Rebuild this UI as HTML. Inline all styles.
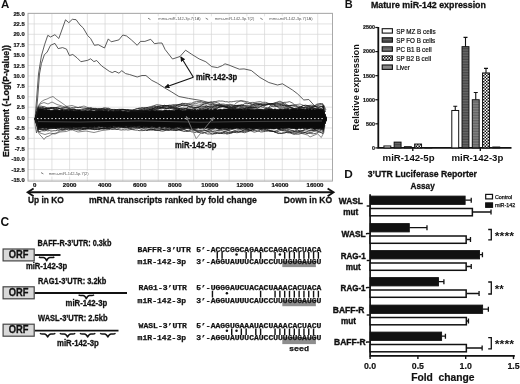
<!DOCTYPE html>
<html><head><meta charset="utf-8"><title>Figure</title>
<style>html,body{margin:0;padding:0;background:#fff;}body{width:520px;height:384px;overflow:hidden;font-family:"Liberation Sans",sans-serif;}svg{display:block;filter:blur(0.4px);}</style>
</head><body>
<svg width="520" height="384" viewBox="0 0 520 384">
<rect width="520" height="384" fill="#fff"/>
<text x="1.00" y="8.02" font-family="Liberation Sans" font-size="11.5" font-weight="bold" text-anchor="start" fill="#111" >A</text>
<path d="M34.20 13.3V181.1M51.92 13.3V181.1M69.64 13.3V181.1M87.36 13.3V181.1M105.08 13.3V181.1M122.80 13.3V181.1M140.52 13.3V181.1M158.24 13.3V181.1M175.96 13.3V181.1M193.68 13.3V181.1M211.40 13.3V181.1M229.12 13.3V181.1M246.84 13.3V181.1M264.56 13.3V181.1M282.28 13.3V181.1M300.00 13.3V181.1M317.72 13.3V181.1M28.0 13.50H332.5M28.0 23.91H332.5M28.0 34.31H332.5M28.0 44.72H332.5M28.0 55.12H332.5M28.0 65.53H332.5M28.0 75.94H332.5M28.0 86.34H332.5M28.0 96.75H332.5M28.0 107.16H332.5M28.0 117.56H332.5M28.0 127.97H332.5M28.0 138.38H332.5M28.0 148.78H332.5M28.0 159.19H332.5M28.0 169.59H332.5M28.0 180.00H332.5" stroke="#d6d6d6" stroke-width="0.7" fill="none"/>
<rect x="28.0" y="13.3" width="304.5" height="167.79999999999998" fill="none" stroke="#a0a0a0" stroke-width="0.9"/>
<text x="24.70" y="15.58" font-family="Liberation Sans" font-size="5.8" font-weight="bold" text-anchor="end" fill="#111" stroke="#111" stroke-width="0.2">25.0</text>
<text x="24.70" y="25.98" font-family="Liberation Sans" font-size="5.8" font-weight="bold" text-anchor="end" fill="#111" stroke="#111" stroke-width="0.2">22.5</text>
<text x="24.70" y="36.39" font-family="Liberation Sans" font-size="5.8" font-weight="bold" text-anchor="end" fill="#111" stroke="#111" stroke-width="0.2">20.0</text>
<text x="24.70" y="46.80" font-family="Liberation Sans" font-size="5.8" font-weight="bold" text-anchor="end" fill="#111" stroke="#111" stroke-width="0.2">17.5</text>
<text x="24.70" y="57.20" font-family="Liberation Sans" font-size="5.8" font-weight="bold" text-anchor="end" fill="#111" stroke="#111" stroke-width="0.2">15.0</text>
<text x="24.70" y="67.61" font-family="Liberation Sans" font-size="5.8" font-weight="bold" text-anchor="end" fill="#111" stroke="#111" stroke-width="0.2">12.5</text>
<text x="24.70" y="78.01" font-family="Liberation Sans" font-size="5.8" font-weight="bold" text-anchor="end" fill="#111" stroke="#111" stroke-width="0.2">10.0</text>
<text x="24.70" y="88.42" font-family="Liberation Sans" font-size="5.8" font-weight="bold" text-anchor="end" fill="#111" stroke="#111" stroke-width="0.2">7.5</text>
<text x="24.70" y="98.83" font-family="Liberation Sans" font-size="5.8" font-weight="bold" text-anchor="end" fill="#111" stroke="#111" stroke-width="0.2">5.0</text>
<text x="24.70" y="109.23" font-family="Liberation Sans" font-size="5.8" font-weight="bold" text-anchor="end" fill="#111" stroke="#111" stroke-width="0.2">2.5</text>
<text x="24.70" y="119.64" font-family="Liberation Sans" font-size="5.8" font-weight="bold" text-anchor="end" fill="#111" stroke="#111" stroke-width="0.2">0.0</text>
<text x="24.70" y="130.05" font-family="Liberation Sans" font-size="5.8" font-weight="bold" text-anchor="end" fill="#111" stroke="#111" stroke-width="0.2">-2.5</text>
<text x="24.70" y="140.45" font-family="Liberation Sans" font-size="5.8" font-weight="bold" text-anchor="end" fill="#111" stroke="#111" stroke-width="0.2">-5.0</text>
<text x="24.70" y="150.86" font-family="Liberation Sans" font-size="5.8" font-weight="bold" text-anchor="end" fill="#111" stroke="#111" stroke-width="0.2">-7.5</text>
<text x="24.70" y="161.26" font-family="Liberation Sans" font-size="5.8" font-weight="bold" text-anchor="end" fill="#111" stroke="#111" stroke-width="0.2">-10.0</text>
<text x="24.70" y="171.67" font-family="Liberation Sans" font-size="5.8" font-weight="bold" text-anchor="end" fill="#111" stroke="#111" stroke-width="0.2">-12.5</text>
<text x="24.70" y="182.08" font-family="Liberation Sans" font-size="5.8" font-weight="bold" text-anchor="end" fill="#111" stroke="#111" stroke-width="0.2">-15.0</text>
<text x="34.60" y="187.48" font-family="Liberation Sans" font-size="6.1" font-weight="bold" text-anchor="middle" fill="#111" stroke="#111" stroke-width="0.2">0</text>
<text x="69.65" y="187.48" font-family="Liberation Sans" font-size="6.1" font-weight="bold" text-anchor="middle" fill="#111" stroke="#111" stroke-width="0.2">2000</text>
<text x="104.70" y="187.48" font-family="Liberation Sans" font-size="6.1" font-weight="bold" text-anchor="middle" fill="#111" stroke="#111" stroke-width="0.2">4000</text>
<text x="139.75" y="187.48" font-family="Liberation Sans" font-size="6.1" font-weight="bold" text-anchor="middle" fill="#111" stroke="#111" stroke-width="0.2">6000</text>
<text x="174.80" y="187.48" font-family="Liberation Sans" font-size="6.1" font-weight="bold" text-anchor="middle" fill="#111" stroke="#111" stroke-width="0.2">8000</text>
<text x="209.85" y="187.48" font-family="Liberation Sans" font-size="6.1" font-weight="bold" text-anchor="middle" fill="#111" stroke="#111" stroke-width="0.2">10000</text>
<text x="244.90" y="187.48" font-family="Liberation Sans" font-size="6.1" font-weight="bold" text-anchor="middle" fill="#111" stroke="#111" stroke-width="0.2">12000</text>
<text x="279.95" y="187.48" font-family="Liberation Sans" font-size="6.1" font-weight="bold" text-anchor="middle" fill="#111" stroke="#111" stroke-width="0.2">14000</text>
<text x="315.00" y="187.48" font-family="Liberation Sans" font-size="6.1" font-weight="bold" text-anchor="middle" fill="#111" stroke="#111" stroke-width="0.2">16000</text>
<text transform="translate(8.8,101) rotate(-90)" font-family="Liberation Sans" font-size="9.4" font-weight="bold" text-anchor="middle" fill="#111" stroke="#111" stroke-width="0.3" textLength="112" lengthAdjust="spacingAndGlyphs">Enrichment (-Log(P-value))</text>
<path d="M35.0 119.0 L36.5 100.0 L38.5 74.0 L41.4 55.9 L44.7 44.3 L47.8 35.3 L50.5 37.0 L54.9 34.7 L58.8 38.5 L65.5 19.8 L68.8 22.7 L72.3 19.3 L76.1 19.7 L80.0 25.0 L83.2 27.9 L87.7 35.6 L90.6 38.5 L94.4 45.3 L98.3 44.7 L104.5 48.0 L108.3 38.9 L111.2 41.8 L118.9 39.9 L122.8 35.0 L126.6 36.0 L131.4 39.9 L137.2 45.3 L140.5 41.4 L144.9 41.4 L150.7 39.3 L154.5 43.7 L158.4 43.1 L162.0 43.0 L165.1 49.5 L172.5 59.0 L180.0 56.5 L185.6 50.2 L191.4 54.1 L199.1 58.9 L205.9 61.8 L211.7 66.6 L217.4 67.6 L222.3 65.6 L225.0 63.8 L229.0 65.1 L235.0 67.5 L239.4 69.2 L244.0 68.9 L251.3 70.5 L260.0 77.5 L268.8 82.5 L277.5 85.0 L282.5 83.8 L292.5 90.0 L297.5 93.8 L303.8 100.0 L308.8 99.5 L315.0 106.3 L321.3 108.8 L323.8 105.5 L325.5 112.0" stroke="#333" stroke-width="0.8" fill="none" stroke-linejoin="round"/>
<path d="M35.5 119.0 L37.5 100.0 L39.5 74.0 L41.4 63.6 L44.3 54.9 L47.2 52.0 L50.5 45.3 L54.9 43.4 L58.2 48.6 L62.6 47.6 L66.5 49.1 L69.4 55.5 L72.8 54.5 L77.0 57.8 L80.9 61.7 L87.7 60.3 L90.6 58.8 L93.9 61.6 L96.7 60.5 L101.6 65.9 L109.3 71.3 L112.2 72.6 L115.0 71.3 L118.9 73.2 L121.8 70.7 L125.6 73.6 L129.5 74.5 L137.2 77.0 L142.0 75.5 L145.9 75.5 L151.7 80.3 L157.4 83.2 L164.5 87.8 L171.2 91.7 L178.9 96.5 L188.5 98.4 L200.0 100.3 L215.0 104.0 L230.0 108.0 L250.0 112.0" stroke="#333" stroke-width="0.8" fill="none" stroke-linejoin="round"/>
<path d="M35.0 118.6 L36.6 113.5 L38.2 109.2 L39.8 108.8 L41.4 108.8 L43.0 108.9 L44.6 109.4 L46.2 109.1 L47.8 109.8 L49.4 109.8 L51.0 110.4 L52.6 110.3 L54.2 109.5 L55.8 109.7 L57.4 109.6 L59.0 110.2 L60.6 110.2 L62.2 109.6 L63.8 110.4 L65.4 110.0 L67.0 110.2 L68.6 110.7 L70.2 110.0 L71.8 110.4 L73.4 110.7 L75.0 111.0 L76.6 110.4 L78.2 110.1 L79.8 110.0 L81.4 110.9 L83.0 111.0 L84.6 110.8 L86.2 110.7 L87.8 111.0 L89.4 110.6 L91.0 110.2 L92.6 110.9 L94.2 111.1 L95.8 110.6 L97.4 110.2 L99.0 110.4 L100.6 110.3 L102.2 110.4 L103.8 110.7 L105.4 110.3 L107.0 110.9 L108.6 111.2 L110.2 110.6 L111.8 110.7 L113.4 111.4 L115.0 110.5 L116.6 110.6 L118.2 111.0 L119.8 110.3 L121.4 110.8 L123.0 111.5 L124.6 111.0 L126.2 111.2 L127.8 111.4 L129.4 111.4 L131.0 110.8 L132.6 110.4 L134.2 110.4 L135.8 110.5 L137.4 110.6 L139.0 110.2 L140.6 110.3 L142.2 110.2 L143.8 110.9 L145.4 110.4 L147.0 110.5 L148.6 111.0 L150.2 110.6 L151.8 110.1 L153.4 110.3 L155.0 110.9 L156.6 109.9 L158.2 110.5 L159.8 110.5 L161.4 110.4 L163.0 110.8 L164.6 110.0 L166.2 109.9 L167.8 110.3 L169.4 110.0 L171.0 110.6 L172.6 110.6 L174.2 110.5 L175.8 109.8 L177.4 109.9 L179.0 109.5 L180.6 109.7 L182.2 110.5 L183.8 110.5 L185.4 110.4 L187.0 109.5 L188.6 109.5 L190.2 110.0 L191.8 110.2 L193.4 109.9 L195.0 109.2 L196.6 110.2 L198.2 109.9 L199.8 109.2 L201.4 109.4 L203.0 110.1 L204.6 109.4 L206.2 109.7 L207.8 109.0 L209.4 109.9 L211.0 109.0 L212.6 109.9 L214.2 109.1 L215.8 108.8 L217.4 109.8 L219.0 109.2 L220.6 109.1 L222.2 109.6 L223.8 108.9 L225.4 108.9 L227.0 108.9 L228.6 108.7 L230.2 109.0 L231.8 109.3 L233.4 109.1 L235.0 109.2 L236.6 109.2 L238.2 109.1 L239.8 108.6 L241.4 108.8 L243.0 109.5 L244.6 109.0 L246.2 109.3 L247.8 108.7 L249.4 108.9 L251.0 109.5 L252.6 109.3 L254.2 109.7 L255.8 109.3 L257.4 109.2 L259.0 109.1 L260.6 109.2 L262.2 109.4 L263.8 109.7 L265.4 109.3 L267.0 109.6 L268.6 108.7 L270.2 108.7 L271.8 108.7 L273.4 109.5 L275.0 108.8 L276.6 109.4 L278.2 109.7 L279.8 108.9 L281.4 109.1 L283.0 109.8 L284.6 108.8 L286.2 109.2 L287.8 108.8 L289.4 109.5 L291.0 109.3 L292.6 108.6 L294.2 109.3 L295.8 108.7 L297.4 109.5 L299.0 108.7 L300.6 108.6 L302.2 108.9 L303.8 109.1 L305.4 109.6 L307.0 108.8 L308.6 109.3 L310.2 108.7 L311.8 109.4 L313.4 108.7 L315.0 109.4 L316.6 108.7 L318.2 108.7 L319.8 109.1 L321.4 109.3 L323.0 109.2 L324.6 113.5 L326.5 118.6 L326.5 119.2 L324.6 124.3 L323.0 128.6 L321.4 129.1 L319.8 128.4 L318.2 129.0 L316.6 129.0 L315.0 129.0 L313.4 129.1 L311.8 128.5 L310.2 128.1 L308.6 128.8 L307.0 129.1 L305.4 128.3 L303.8 129.1 L302.2 128.2 L300.6 128.9 L299.0 128.3 L297.4 129.2 L295.8 129.2 L294.2 128.6 L292.6 128.4 L291.0 128.5 L289.4 128.0 L287.8 128.4 L286.2 128.4 L284.6 128.5 L283.0 129.0 L281.4 128.6 L279.8 129.1 L278.2 129.2 L276.6 128.2 L275.0 128.9 L273.4 129.1 L271.8 128.8 L270.2 128.3 L268.6 128.5 L267.0 128.2 L265.4 129.1 L263.8 128.3 L262.2 129.1 L260.6 129.1 L259.0 128.6 L257.4 128.8 L255.8 128.6 L254.2 128.5 L252.6 128.9 L251.0 128.6 L249.4 128.3 L247.8 128.7 L246.2 128.9 L244.6 128.6 L243.0 128.7 L241.4 128.6 L239.8 129.0 L238.2 128.2 L236.6 128.0 L235.0 128.6 L233.4 129.1 L231.8 129.1 L230.2 128.6 L228.6 129.1 L227.0 128.5 L225.4 128.7 L223.8 128.4 L222.2 128.3 L220.6 129.1 L219.0 129.1 L217.4 128.7 L215.8 127.9 L214.2 128.5 L212.6 128.6 L211.0 128.8 L209.4 128.8 L207.8 127.9 L206.2 127.9 L204.6 128.8 L203.0 128.1 L201.4 128.6 L199.8 128.5 L198.2 128.1 L196.6 128.5 L195.0 128.3 L193.4 128.4 L191.8 128.0 L190.2 128.5 L188.6 127.6 L187.0 127.6 L185.4 127.7 L183.8 128.5 L182.2 127.8 L180.6 128.0 L179.0 127.5 L177.4 127.2 L175.8 127.7 L174.2 128.0 L172.6 128.0 L171.0 128.2 L169.4 127.2 L167.8 127.9 L166.2 127.8 L164.6 127.3 L163.0 127.7 L161.4 128.0 L159.8 126.8 L158.2 126.9 L156.6 127.9 L155.0 126.9 L153.4 127.0 L151.8 126.8 L150.2 127.2 L148.6 127.8 L147.0 126.7 L145.4 126.9 L143.8 126.7 L142.2 127.5 L140.6 126.9 L139.0 126.6 L137.4 126.4 L135.8 126.5 L134.2 126.4 L132.6 127.0 L131.0 126.7 L129.4 127.2 L127.8 127.2 L126.2 126.3 L124.6 127.0 L123.0 127.1 L121.4 127.0 L119.8 126.8 L118.2 126.6 L116.6 126.9 L115.0 126.6 L113.4 126.5 L111.8 127.4 L110.2 126.8 L108.6 127.4 L107.0 127.4 L105.4 126.9 L103.8 127.4 L102.2 126.7 L100.6 127.3 L99.0 126.6 L97.4 127.0 L95.8 127.3 L94.2 126.8 L92.6 127.7 L91.0 127.4 L89.4 127.3 L87.8 127.7 L86.2 127.1 L84.6 127.3 L83.0 127.0 L81.4 127.3 L79.8 127.5 L78.2 127.3 L76.6 127.6 L75.0 126.9 L73.4 127.1 L71.8 127.9 L70.2 127.5 L68.6 127.7 L67.0 127.3 L65.4 127.7 L63.8 127.5 L62.2 127.3 L60.6 127.2 L59.0 127.6 L57.4 127.9 L55.8 128.2 L54.2 127.4 L52.6 127.7 L51.0 127.5 L49.4 128.0 L47.8 128.7 L46.2 127.9 L44.6 128.7 L43.0 127.9 L41.4 128.3 L39.8 128.5 L38.2 128.4 L36.6 124.3 L35.0 119.2Z" fill="#0a0a0a" stroke="#0a0a0a" stroke-width="0.6"/>
<path d="M35.0 119.0 L36.6 124.1 L38.2 127.3 L39.8 127.2 L41.4 126.9 L43.0 127.3 L44.6 127.2 L46.2 127.0 L47.8 127.4 L49.4 127.9 L51.0 127.5 L52.6 128.1 L54.2 127.9 L55.8 127.9 L57.4 128.0 L59.0 127.6 L60.6 127.5 L62.2 127.5 L63.8 127.6 L65.4 127.2 L67.0 127.6 L68.6 127.7 L70.2 127.8 L71.8 127.9 L73.4 128.0 L75.0 127.9 L76.6 127.9 L78.2 127.7 L79.8 128.0 L81.4 127.4 L83.0 127.1 L84.6 126.9 L86.2 127.3 L87.8 127.3 L89.4 127.2 L91.0 127.0 L92.6 127.1 L94.2 127.2 L95.8 127.3 L97.4 127.1 L99.0 127.1 L100.6 126.8 L102.2 127.0 L103.8 126.7 L105.4 126.2 L107.0 125.8 L108.6 126.2 L110.2 125.7 L111.8 125.8 L113.4 125.7 L115.0 126.2 L116.6 126.4 L118.2 126.4 L119.8 126.2 L121.4 126.3 L123.0 125.8 L124.6 125.8 L126.2 125.5 L127.8 125.6 L129.4 125.3 L131.0 125.4 L132.6 125.8 L134.2 126.0 L135.8 126.6 L137.4 126.9 L139.0 127.3 L140.6 127.4 L142.2 127.6 L143.8 127.7 L145.4 127.2 L147.0 127.0 L148.6 127.4 L150.2 126.8 L151.8 127.2 L153.4 127.4 L155.0 127.2 L156.6 128.1 L158.2 128.5 L159.8 128.6 L161.4 128.8 L163.0 128.9 L164.6 128.4 L166.2 128.4 L167.8 128.1 L169.4 128.0 L171.0 127.7 L172.6 127.6 L174.2 127.3 L175.8 127.6 L177.4 127.7 L179.0 127.9 L180.6 127.8 L182.2 127.8 L183.8 127.9 L185.4 127.9 L187.0 127.4 L188.6 127.5 L190.2 126.9 L191.8 126.6 L193.4 126.4 L195.0 126.4 L196.6 126.4 L198.2 126.5 L199.8 126.9 L201.4 127.2 L203.0 127.4 L204.6 127.7 L206.2 127.8 L207.8 127.4 L209.4 127.7 L211.0 127.1 L212.6 126.8 L214.2 126.8 L215.8 127.1 L217.4 126.9 L219.0 127.6 L220.6 128.2 L222.2 128.4 L223.8 128.8 L225.4 129.2 L227.0 129.6 L228.6 129.8 L230.2 129.6 L231.8 129.4 L233.4 128.7 L235.0 128.6 L236.6 128.5 L238.2 128.8 L239.8 128.6 L241.4 129.1 L243.0 129.0 L244.6 129.4 L246.2 129.9 L247.8 130.3 L249.4 130.3 L251.0 130.1 L252.6 129.4 L254.2 129.2 L255.8 128.7 L257.4 128.3 L259.0 127.7 L260.6 128.1 L262.2 127.7 L263.8 128.4 L265.4 128.5 L267.0 128.1 L268.6 128.5 L270.2 128.8 L271.8 128.7 L273.4 128.1 L275.0 127.5 L276.6 127.0 L278.2 127.2 L279.8 126.9 L281.4 126.9 L283.0 126.9 L284.6 126.9 L286.2 127.3 L287.8 127.2 L289.4 128.0 L291.0 128.0 L292.6 128.4 L294.2 128.3 L295.8 127.8 L297.4 128.0 L299.0 127.5 L300.6 127.0 L302.2 127.0 L303.8 127.4 L305.4 127.7 L307.0 128.0 L308.6 128.4 L310.2 129.0 L311.8 129.4 L313.4 130.0 L315.0 129.5 L316.6 130.0 L318.2 129.8 L319.8 129.0 L321.4 129.3 L323.0 128.9 L324.6 124.1 L326.5 119.0M35.0 119.0 L36.6 113.9 L38.2 109.4 L39.8 109.7 L41.4 109.0 L43.0 109.2 L44.6 108.9 L46.2 108.6 L47.8 108.7 L49.4 108.6 L51.0 108.4 L52.6 108.7 L54.2 109.1 L55.8 109.6 L57.4 109.9 L59.0 110.2 L60.6 110.8 L62.2 110.9 L63.8 111.5 L65.4 111.0 L67.0 111.1 L68.6 110.8 L70.2 110.7 L71.8 110.8 L73.4 110.9 L75.0 110.3 L76.6 111.0 L78.2 111.0 L79.8 111.3 L81.4 111.7 L83.0 111.7 L84.6 111.8 L86.2 112.5 L87.8 112.3 L89.4 112.5 L91.0 112.2 L92.6 112.0 L94.2 111.8 L95.8 111.5 L97.4 111.1 L99.0 110.3 L100.6 110.3 L102.2 110.4 L103.8 109.9 L105.4 110.0 L107.0 110.6 L108.6 111.0 L110.2 111.2 L111.8 111.4 L113.4 111.3 L115.0 111.5 L116.6 111.3 L118.2 111.1 L119.8 110.7 L121.4 110.2 L123.0 110.0 L124.6 110.1 L126.2 110.0 L127.8 109.9 L129.4 110.1 L131.0 110.4 L132.6 111.0 L134.2 111.2 L135.8 111.2 L137.4 112.2 L139.0 112.2 L140.6 112.3 L142.2 112.2 L143.8 112.6 L145.4 112.3 L147.0 112.1 L148.6 111.6 L150.2 111.3 L151.8 110.7 L153.4 110.6 L155.0 110.6 L156.6 111.3 L158.2 111.5 L159.8 111.3 L161.4 111.5 L163.0 112.1 L164.6 112.1 L166.2 112.2 L167.8 112.1 L169.4 111.4 L171.0 110.9 L172.6 110.3 L174.2 109.5 L175.8 109.4 L177.4 109.0 L179.0 108.6 L180.6 108.1 L182.2 108.0 L183.8 108.0 L185.4 108.5 L187.0 108.9 L188.6 109.3 L190.2 109.8 L191.8 110.0 L193.4 110.4 L195.0 109.8 L196.6 110.0 L198.2 109.1 L199.8 108.9 L201.4 108.8 L203.0 108.6 L204.6 108.4 L206.2 108.2 L207.8 108.4 L209.4 109.3 L211.0 110.0 L212.6 110.3 L214.2 110.9 L215.8 111.2 L217.4 111.1 L219.0 111.1 L220.6 111.1 L222.2 111.1 L223.8 111.1 L225.4 110.6 L227.0 110.3 L228.6 109.6 L230.2 109.5 L231.8 109.4 L233.4 109.3 L235.0 108.9 L236.6 109.3 L238.2 109.9 L239.8 110.4 L241.4 110.4 L243.0 110.4 L244.6 110.6 L246.2 110.5 L247.8 109.8 L249.4 109.1 L251.0 108.9 L252.6 108.4 L254.2 107.6 L255.8 107.1 L257.4 106.6 L259.0 106.9 L260.6 106.7 L262.2 107.1 L263.8 107.8 L265.4 108.6 L267.0 108.7 L268.6 109.7 L270.2 109.7 L271.8 110.4 L273.4 110.4 L275.0 109.9 L276.6 109.9 L278.2 109.1 L279.8 109.1 L281.4 109.1 L283.0 109.0 L284.6 109.0 L286.2 109.1 L287.8 109.3 L289.4 110.4 L291.0 110.9 L292.6 111.1 L294.2 111.1 L295.8 111.1 L297.4 111.1 L299.0 111.1 L300.6 111.1 L302.2 111.0 L303.8 110.3 L305.4 109.8 L307.0 108.9 L308.6 108.5 L310.2 108.6 L311.8 108.5 L313.4 108.0 L315.0 108.4 L316.6 109.2 L318.2 109.1 L319.8 109.6 L321.4 109.8 L323.0 109.9 L324.6 113.9 L326.5 119.0M35.0 119.0 L36.6 124.1 L38.2 128.4 L39.8 127.7 L41.4 127.7 L43.0 127.4 L44.6 127.6 L46.2 127.1 L47.8 127.4 L49.4 127.9 L51.0 127.5 L52.6 128.0 L54.2 128.3 L55.8 128.3 L57.4 127.6 L59.0 127.4 L60.6 127.1 L62.2 127.4 L63.8 126.6 L65.4 126.7 L67.0 126.7 L68.6 126.4 L70.2 126.5 L71.8 127.2 L73.4 127.3 L75.0 127.4 L76.6 128.0 L78.2 128.0 L79.8 128.1 L81.4 127.9 L83.0 128.3 L84.6 128.2 L86.2 127.8 L87.8 127.8 L89.4 126.9 L91.0 127.0 L92.6 127.2 L94.2 127.6 L95.8 127.9 L97.4 127.8 L99.0 128.0 L100.6 128.4 L102.2 128.6 L103.8 129.0 L105.4 128.5 L107.0 128.7 L108.6 128.4 L110.2 128.1 L111.8 127.7 L113.4 127.3 L115.0 126.8 L116.6 126.7 L118.2 126.8 L119.8 127.2 L121.4 126.9 L123.0 127.2 L124.6 127.8 L126.2 127.6 L127.8 127.5 L129.4 127.4 L131.0 127.6 L132.6 127.1 L134.2 127.2 L135.8 126.7 L137.4 126.4 L139.0 125.7 L140.6 125.4 L142.2 125.5 L143.8 125.9 L145.4 126.4 L147.0 126.6 L148.6 126.9 L150.2 127.3 L151.8 127.7 L153.4 127.8 L155.0 127.8 L156.6 127.7 L158.2 127.3 L159.8 126.5 L161.4 126.8 L163.0 126.2 L164.6 126.4 L166.2 126.4 L167.8 127.1 L169.4 127.2 L171.0 127.8 L172.6 128.5 L174.2 129.0 L175.8 129.9 L177.4 129.9 L179.0 129.8 L180.6 129.7 L182.2 129.8 L183.8 129.1 L185.4 128.6 L187.0 128.7 L188.6 128.5 L190.2 128.9 L191.8 128.6 L193.4 129.3 L195.0 130.1 L196.6 130.7 L198.2 131.3 L199.8 131.0 L201.4 131.3 L203.0 131.0 L204.6 130.7 L206.2 130.7 L207.8 129.8 L209.4 129.4 L211.0 128.5 L212.6 128.5 L214.2 128.0 L215.8 128.0 L217.4 128.6 L219.0 129.1 L220.6 129.0 L222.2 129.7 L223.8 129.9 L225.4 129.7 L227.0 129.6 L228.6 129.0 L230.2 128.5 L231.8 127.9 L233.4 127.6 L235.0 127.1 L236.6 126.9 L238.2 126.9 L239.8 126.9 L241.4 127.2 L243.0 127.3 L244.6 128.0 L246.2 128.5 L247.8 129.4 L249.4 129.5 L251.0 129.2 L252.6 129.1 L254.2 129.0 L255.8 128.7 L257.4 128.4 L259.0 127.6 L260.6 127.5 L262.2 127.9 L263.8 128.0 L265.4 128.3 L267.0 129.0 L268.6 130.1 L270.2 130.4 L271.8 131.1 L273.4 131.3 L275.0 131.5 L276.6 131.7 L278.2 131.5 L279.8 130.6 L281.4 130.0 L283.0 129.9 L284.6 129.2 L286.2 128.9 L287.8 129.6 L289.4 129.5 L291.0 130.2 L292.6 130.4 L294.2 131.2 L295.8 131.3 L297.4 131.2 L299.0 131.1 L300.6 131.2 L302.2 130.8 L303.8 130.3 L305.4 129.0 L307.0 128.7 L308.6 128.0 L310.2 127.8 L311.8 127.4 L313.4 127.6 L315.0 128.0 L316.6 128.7 L318.2 128.6 L319.8 129.2 L321.4 129.7 L323.0 129.8 L324.6 124.1 L326.5 119.0M35.0 119.0 L36.6 113.9 L38.2 109.2 L39.8 109.0 L41.4 109.8 L43.0 110.2 L44.6 110.3 L46.2 110.7 L47.8 111.2 L49.4 111.1 L51.0 110.8 L52.6 110.5 L54.2 110.4 L55.8 110.6 L57.4 110.6 L59.0 110.5 L60.6 110.7 L62.2 111.4 L63.8 111.0 L65.4 110.6 L67.0 110.7 L68.6 109.7 L70.2 109.9 L71.8 109.3 L73.4 109.4 L75.0 109.4 L76.6 109.8 L78.2 109.9 L79.8 109.8 L81.4 109.8 L83.0 109.3 L84.6 109.1 L86.2 108.9 L87.8 109.0 L89.4 108.7 L91.0 109.0 L92.6 109.5 L94.2 109.5 L95.8 109.8 L97.4 110.1 L99.0 110.3 L100.6 109.9 L102.2 110.1 L103.8 110.0 L105.4 109.9 L107.0 110.5 L108.6 110.7 L110.2 111.1 L111.8 111.8 L113.4 111.6 L115.0 112.1 L116.6 111.5 L118.2 111.2 L119.8 111.3 L121.4 111.6 L123.0 111.4 L124.6 111.8 L126.2 111.7 L127.8 112.6 L129.4 112.2 L131.0 111.9 L132.6 111.8 L134.2 111.2 L135.8 111.2 L137.4 110.3 L139.0 110.4 L140.6 110.1 L142.2 110.3 L143.8 110.9 L145.4 110.5 L147.0 110.2 L148.6 110.3 L150.2 109.5 L151.8 108.6 L153.4 108.5 L155.0 107.7 L156.6 108.2 L158.2 108.0 L159.8 108.8 L161.4 108.8 L163.0 108.5 L164.6 108.8 L166.2 108.4 L167.8 107.8 L169.4 107.6 L171.0 107.8 L172.6 107.9 L174.2 108.4 L175.8 108.5 L177.4 109.3 L179.0 109.6 L180.6 110.2 L182.2 109.7 L183.8 109.9 L185.4 109.4 L187.0 109.2 L188.6 109.6 L190.2 109.7 L191.8 110.6 L193.4 111.2 L195.0 111.4 L196.6 111.6 L198.2 111.3 L199.8 111.0 L201.4 110.6 L203.0 109.8 L204.6 109.9 L206.2 109.4 L207.8 110.0 L209.4 110.5 L211.0 110.4 L212.6 110.5 L214.2 110.2 L215.8 109.0 L217.4 108.6 L219.0 107.3 L220.6 107.2 L222.2 106.7 L223.8 106.6 L225.4 107.2 L227.0 107.4 L228.6 107.7 L230.2 107.7 L231.8 107.2 L233.4 106.5 L235.0 105.6 L236.6 105.4 L238.2 105.3 L239.8 105.4 L241.4 106.6 L243.0 107.2 L244.6 107.4 L246.2 108.2 L247.8 108.2 L249.4 107.7 L251.0 107.6 L252.6 107.2 L254.2 107.5 L255.8 107.7 L257.4 108.5 L259.0 109.6 L260.6 110.0 L262.2 110.6 L263.8 110.9 L265.4 110.1 L267.0 110.2 L268.6 109.9 L270.2 109.8 L271.8 109.6 L273.4 109.8 L275.0 110.4 L276.6 111.1 L278.2 111.1 L279.8 111.1 L281.4 110.6 L283.0 109.9 L284.6 109.3 L286.2 108.5 L287.8 108.3 L289.4 107.9 L291.0 108.3 L292.6 108.9 L294.2 108.5 L295.8 109.0 L297.4 108.1 L299.0 107.5 L300.6 106.8 L302.2 106.3 L303.8 105.4 L305.4 106.0 L307.0 105.9 L308.6 106.2 L310.2 107.2 L311.8 107.4 L313.4 107.0 L315.0 106.8 L316.6 106.3 L318.2 105.8 L319.8 106.2 L321.4 106.3 L323.0 106.9 L324.6 113.9 L326.5 119.0M35.0 119.0 L36.6 124.1 L38.2 129.5 L39.8 129.5 L41.4 129.3 L43.0 129.4 L44.6 129.6 L46.2 129.3 L47.8 129.2 L49.4 128.7 L51.0 128.1 L52.6 128.0 L54.2 127.7 L55.8 127.8 L57.4 127.5 L59.0 127.4 L60.6 127.7 L62.2 128.0 L63.8 127.5 L65.4 128.0 L67.0 127.3 L68.6 127.3 L70.2 127.2 L71.8 127.6 L73.4 127.8 L75.0 127.8 L76.6 127.7 L78.2 128.3 L79.8 128.2 L81.4 128.4 L83.0 129.0 L84.6 128.8 L86.2 128.8 L87.8 128.8 L89.4 128.9 L91.0 128.6 L92.6 128.9 L94.2 128.9 L95.8 129.1 L97.4 128.9 L99.0 129.2 L100.6 129.1 L102.2 128.8 L103.8 128.5 L105.4 128.6 L107.0 127.9 L108.6 128.2 L110.2 127.5 L111.8 127.3 L113.4 127.4 L115.0 127.9 L116.6 127.5 L118.2 127.3 L119.8 127.1 L121.4 126.9 L123.0 127.1 L124.6 126.8 L126.2 126.7 L127.8 126.6 L129.4 126.1 L131.0 126.6 L132.6 126.6 L134.2 127.2 L135.8 127.4 L137.4 127.6 L139.0 127.2 L140.6 127.8 L142.2 127.8 L143.8 127.9 L145.4 127.4 L147.0 127.6 L148.6 127.9 L150.2 128.2 L151.8 129.2 L153.4 129.6 L155.0 129.8 L156.6 130.2 L158.2 130.1 L159.8 129.8 L161.4 129.6 L163.0 129.6 L164.6 130.0 L166.2 129.7 L167.8 130.0 L169.4 130.2 L171.0 130.1 L172.6 130.4 L174.2 130.3 L175.8 130.4 L177.4 129.9 L179.0 129.4 L180.6 129.5 L182.2 128.8 L183.8 128.8 L185.4 128.6 L187.0 128.2 L188.6 128.6 L190.2 128.6 L191.8 128.9 L193.4 128.5 L195.0 128.5 L196.6 128.1 L198.2 127.6 L199.8 127.9 L201.4 127.3 L203.0 128.0 L204.6 127.9 L206.2 128.3 L207.8 128.9 L209.4 129.7 L211.0 130.1 L212.6 129.6 L214.2 130.1 L215.8 130.1 L217.4 130.4 L219.0 130.1 L220.6 130.6 L222.2 130.8 L223.8 131.6 L225.4 131.7 L227.0 132.6 L228.6 132.3 L230.2 132.3 L231.8 132.5 L233.4 132.1 L235.0 131.6 L236.6 131.7 L238.2 131.1 L239.8 131.5 L241.4 131.5 L243.0 131.6 L244.6 131.5 L246.2 131.3 L247.8 131.1 L249.4 130.7 L251.0 130.5 L252.6 129.4 L254.2 129.5 L255.8 128.5 L257.4 128.4 L259.0 128.4 L260.6 129.0 L262.2 128.8 L263.8 128.9 L265.4 129.2 L267.0 128.7 L268.6 128.7 L270.2 128.5 L271.8 128.5 L273.4 128.5 L275.0 128.5 L276.6 128.6 L278.2 129.0 L279.8 129.4 L281.4 130.4 L283.0 130.7 L284.6 131.0 L286.2 130.7 L287.8 130.9 L289.4 131.1 L291.0 131.0 L292.6 130.8 L294.2 131.2 L295.8 131.8 L297.4 131.8 L299.0 132.1 L300.6 132.4 L302.2 132.7 L303.8 132.7 L305.4 132.0 L307.0 131.6 L308.6 131.2 L310.2 130.9 L311.8 130.8 L313.4 130.5 L315.0 130.6 L316.6 130.5 L318.2 131.0 L319.8 130.7 L321.4 130.0 L323.0 130.2 L324.6 124.1 L326.5 119.0M35.0 119.0 L36.6 113.9 L38.2 108.0 L39.8 107.9 L41.4 107.8 L43.0 108.0 L44.6 108.3 L46.2 108.4 L47.8 108.6 L49.4 108.8 L51.0 108.5 L52.6 108.7 L54.2 108.4 L55.8 108.3 L57.4 108.6 L59.0 108.5 L60.6 108.5 L62.2 108.9 L63.8 109.2 L65.4 109.1 L67.0 109.3 L68.6 109.8 L70.2 110.2 L71.8 110.4 L73.4 110.9 L75.0 111.1 L76.6 111.4 L78.2 111.6 L79.8 111.4 L81.4 111.6 L83.0 111.2 L84.6 110.7 L86.2 110.4 L87.8 110.1 L89.4 110.0 L91.0 109.6 L92.6 109.3 L94.2 109.0 L95.8 109.0 L97.4 108.8 L99.0 108.6 L100.6 109.3 L102.2 109.1 L103.8 109.1 L105.4 109.6 L107.0 109.6 L108.6 109.4 L110.2 110.2 L111.8 109.8 L113.4 110.1 L115.0 109.7 L116.6 109.5 L118.2 109.8 L119.8 110.1 L121.4 109.8 L123.0 109.8 L124.6 109.8 L126.2 110.1 L127.8 110.3 L129.4 110.4 L131.0 110.9 L132.6 111.2 L134.2 111.1 L135.8 111.8 L137.4 111.6 L139.0 111.9 L140.6 111.5 L142.2 111.8 L143.8 110.9 L145.4 110.9 L147.0 110.6 L148.6 109.9 L150.2 109.3 L151.8 109.0 L153.4 108.3 L155.0 107.9 L156.6 107.4 L158.2 107.5 L159.8 107.5 L161.4 107.6 L163.0 107.4 L164.6 107.4 L166.2 108.0 L167.8 108.4 L169.4 108.2 L171.0 108.7 L172.6 109.0 L174.2 109.1 L175.8 108.6 L177.4 108.5 L179.0 108.6 L180.6 108.6 L182.2 108.5 L183.8 108.7 L185.4 108.2 L187.0 108.8 L188.6 108.8 L190.2 108.9 L191.8 109.2 L193.4 109.8 L195.0 110.3 L196.6 110.4 L198.2 110.8 L199.8 110.4 L201.4 110.6 L203.0 109.9 L204.6 109.9 L206.2 109.3 L207.8 108.7 L209.4 107.8 L211.0 107.3 L212.6 106.7 L214.2 105.6 L215.8 105.4 L217.4 105.1 L219.0 104.9 L220.6 104.8 L222.2 105.0 L223.8 105.2 L225.4 105.6 L227.0 106.3 L228.6 106.4 L230.2 106.9 L231.8 107.9 L233.4 107.7 L235.0 107.8 L236.6 108.1 L238.2 108.6 L239.8 108.1 L241.4 108.1 L243.0 108.5 L244.6 108.5 L246.2 107.8 L247.8 108.1 L249.4 108.5 L251.0 108.8 L252.6 109.0 L254.2 109.2 L255.8 109.1 L257.4 109.6 L259.0 109.9 L260.6 109.4 L262.2 109.4 L263.8 109.7 L265.4 108.8 L267.0 108.5 L268.6 107.8 L270.2 107.2 L271.8 106.4 L273.4 105.8 L275.0 105.2 L276.6 105.2 L278.2 104.6 L279.8 104.5 L281.4 104.4 L283.0 104.9 L284.6 104.9 L286.2 105.6 L287.8 106.4 L289.4 107.0 L291.0 107.6 L292.6 107.9 L294.2 108.6 L295.8 108.7 L297.4 109.1 L299.0 109.0 L300.6 109.0 L302.2 108.8 L303.8 108.5 L305.4 109.0 L307.0 108.2 L308.6 108.4 L310.2 108.3 L311.8 108.3 L313.4 108.3 L315.0 108.8 L316.6 108.9 L318.2 108.7 L319.8 109.4 L321.4 109.1 L323.0 109.0 L324.6 113.9 L326.5 119.0M35.0 119.0 L36.6 124.1 L38.2 129.1 L39.8 128.8 L41.4 129.2 L43.0 128.9 L44.6 129.0 L46.2 128.8 L47.8 128.7 L49.4 128.0 L51.0 127.8 L52.6 127.6 L54.2 127.6 L55.8 127.9 L57.4 127.8 L59.0 128.4 L60.6 128.4 L62.2 128.7 L63.8 128.5 L65.4 128.6 L67.0 128.8 L68.6 128.5 L70.2 128.6 L71.8 128.5 L73.4 128.8 L75.0 129.1 L76.6 129.7 L78.2 130.0 L79.8 130.1 L81.4 129.5 L83.0 129.7 L84.6 129.6 L86.2 129.2 L87.8 128.7 L89.4 129.0 L91.0 128.9 L92.6 129.2 L94.2 129.7 L95.8 129.4 L97.4 129.2 L99.0 128.9 L100.6 128.5 L102.2 127.9 L103.8 127.6 L105.4 127.5 L107.0 127.6 L108.6 127.6 L110.2 127.8 L111.8 127.4 L113.4 127.6 L115.0 127.2 L116.6 127.1 L118.2 126.4 L119.8 126.3 L121.4 126.2 L123.0 126.9 L124.6 127.4 L126.2 127.6 L127.8 127.7 L129.4 128.2 L131.0 128.2 L132.6 128.0 L134.2 127.8 L135.8 127.8 L137.4 128.1 L139.0 128.4 L140.6 129.0 L142.2 129.7 L143.8 130.4 L145.4 130.1 L147.0 130.6 L148.6 130.1 L150.2 130.0 L151.8 130.2 L153.4 130.0 L155.0 130.3 L156.6 130.2 L158.2 130.2 L159.8 130.7 L161.4 131.0 L163.0 131.1 L164.6 130.7 L166.2 129.8 L167.8 129.2 L169.4 128.5 L171.0 128.7 L172.6 128.4 L174.2 128.5 L175.8 128.6 L177.4 128.7 L179.0 129.2 L180.6 128.5 L182.2 128.7 L183.8 127.6 L185.4 127.8 L187.0 127.2 L188.6 127.3 L190.2 128.2 L191.8 128.5 L193.4 129.5 L195.0 129.6 L196.6 129.7 L198.2 130.2 L199.8 130.1 L201.4 130.1 L203.0 130.1 L204.6 130.0 L206.2 131.0 L207.8 131.8 L209.4 132.4 L211.0 133.3 L212.6 133.1 L214.2 133.6 L215.8 133.2 L217.4 132.3 L219.0 132.0 L220.6 132.4 L222.2 132.6 L223.8 132.4 L225.4 132.9 L227.0 133.4 L228.6 132.9 L230.2 133.0 L231.8 132.1 L233.4 131.0 L235.0 130.5 L236.6 130.1 L238.2 129.8 L239.8 130.0 L241.4 129.8 L243.0 130.4 L244.6 130.1 L246.2 130.1 L247.8 129.7 L249.4 128.9 L251.0 128.4 L252.6 128.3 L254.2 128.4 L255.8 128.6 L257.4 128.9 L259.0 129.4 L260.6 129.8 L262.2 130.7 L263.8 130.6 L265.4 130.6 L267.0 130.1 L268.6 130.2 L270.2 130.6 L271.8 130.9 L273.4 131.4 L275.0 132.0 L276.6 132.8 L278.2 133.5 L279.8 133.3 L281.4 133.4 L283.0 133.0 L284.6 132.8 L286.2 132.5 L287.8 132.1 L289.4 132.2 L291.0 132.7 L292.6 133.1 L294.2 133.3 L295.8 133.3 L297.4 132.9 L299.0 131.6 L300.6 131.4 L302.2 130.7 L303.8 130.3 L305.4 130.0 L307.0 129.8 L308.6 130.4 L310.2 130.5 L311.8 130.4 L313.4 130.2 L315.0 129.3 L316.6 128.5 L318.2 128.3 L319.8 128.3 L321.4 127.9 L323.0 128.7 L324.6 124.1 L326.5 119.0M35.0 119.0 L36.6 113.9 L38.2 108.2 L39.8 108.4 L41.4 109.0 L43.0 108.8 L44.6 108.5 L46.2 108.3 L47.8 108.2 L49.4 107.9 L51.0 107.5 L52.6 107.7 L54.2 107.7 L55.8 107.9 L57.4 107.9 L59.0 108.5 L60.6 108.7 L62.2 109.0 L63.8 109.0 L65.4 109.3 L67.0 109.3 L68.6 108.6 L70.2 109.1 L71.8 109.5 L73.4 109.5 L75.0 109.8 L76.6 110.7 L78.2 110.7 L79.8 111.1 L81.4 110.9 L83.0 111.1 L84.6 110.8 L86.2 109.8 L87.8 109.7 L89.4 109.9 L91.0 109.8 L92.6 110.2 L94.2 109.9 L95.8 110.2 L97.4 109.8 L99.0 109.7 L100.6 109.3 L102.2 108.8 L103.8 108.9 L105.4 108.8 L107.0 108.6 L108.6 108.8 L110.2 109.1 L111.8 109.4 L113.4 109.4 L115.0 109.4 L116.6 109.8 L118.2 109.4 L119.8 109.3 L121.4 109.8 L123.0 109.4 L124.6 109.7 L126.2 110.2 L127.8 110.0 L129.4 111.0 L131.0 111.1 L132.6 111.2 L134.2 111.0 L135.8 111.0 L137.4 110.8 L139.0 110.4 L140.6 110.2 L142.2 109.4 L143.8 109.3 L145.4 109.9 L147.0 110.1 L148.6 110.0 L150.2 109.8 L151.8 109.1 L153.4 108.6 L155.0 108.0 L156.6 107.9 L158.2 106.9 L159.8 106.7 L161.4 106.8 L163.0 106.8 L164.6 107.8 L166.2 108.1 L167.8 108.0 L169.4 107.9 L171.0 108.0 L172.6 108.1 L174.2 107.6 L175.8 107.4 L177.4 108.0 L179.0 108.2 L180.6 108.8 L182.2 109.6 L183.8 109.9 L185.4 110.5 L187.0 110.5 L188.6 110.4 L190.2 109.5 L191.8 109.4 L193.4 108.4 L195.0 108.3 L196.6 108.3 L198.2 107.7 L199.8 108.4 L201.4 108.0 L203.0 108.0 L204.6 107.6 L206.2 107.5 L207.8 106.5 L209.4 106.0 L211.0 104.7 L212.6 104.4 L214.2 104.6 L215.8 105.0 L217.4 105.5 L219.0 105.7 L220.6 106.4 L222.2 106.6 L223.8 106.9 L225.4 106.7 L227.0 106.6 L228.6 106.1 L230.2 106.3 L231.8 107.0 L233.4 107.1 L235.0 108.3 L236.6 109.0 L238.2 109.7 L239.8 109.8 L241.4 109.3 L243.0 109.3 L244.6 108.8 L246.2 108.0 L247.8 107.8 L249.4 107.2 L251.0 107.8 L252.6 107.4 L254.2 108.2 L255.8 107.7 L257.4 107.6 L259.0 107.4 L260.6 106.5 L262.2 105.9 L263.8 105.2 L265.4 104.8 L267.0 104.6 L268.6 104.4 L270.2 104.9 L271.8 105.5 L273.4 106.6 L275.0 106.7 L276.6 106.4 L278.2 106.8 L279.8 106.2 L281.4 106.3 L283.0 105.9 L284.6 106.9 L286.2 107.0 L287.8 108.0 L289.4 109.0 L291.0 109.7 L292.6 109.4 L294.2 109.6 L295.8 109.5 L297.4 108.8 L299.0 107.9 L300.6 108.0 L302.2 107.5 L303.8 107.8 L305.4 108.0 L307.0 107.8 L308.6 107.9 L310.2 108.1 L311.8 107.7 L313.4 107.0 L315.0 105.9 L316.6 105.2 L318.2 104.9 L319.8 104.7 L321.4 104.6 L323.0 104.9 L324.6 113.9 L326.5 119.0M35.0 119.0 L36.6 124.1 L38.2 129.4 L39.8 129.4 L41.4 129.3 L43.0 130.1 L44.6 129.8 L46.2 129.9 L47.8 129.2 L49.4 128.7 L51.0 128.8 L52.6 128.3 L54.2 128.2 L55.8 128.5 L57.4 129.0 L59.0 128.9 L60.6 129.5 L62.2 129.6 L63.8 129.5 L65.4 128.9 L67.0 129.0 L68.6 128.7 L70.2 128.6 L71.8 128.3 L73.4 128.8 L75.0 128.9 L76.6 129.6 L78.2 129.3 L79.8 130.0 L81.4 129.9 L83.0 129.3 L84.6 128.9 L86.2 128.6 L87.8 128.5 L89.4 128.2 L91.0 129.1 L92.6 128.9 L94.2 129.2 L95.8 129.4 L97.4 129.5 L99.0 129.7 L100.6 128.8 L102.2 128.5 L103.8 128.6 L105.4 128.1 L107.0 128.0 L108.6 128.6 L110.2 128.9 L111.8 129.1 L113.4 129.4 L115.0 129.0 L116.6 129.3 L118.2 128.8 L119.8 128.0 L121.4 127.7 L123.0 127.8 L124.6 127.8 L126.2 127.9 L127.8 128.1 L129.4 128.7 L131.0 128.7 L132.6 129.1 L134.2 129.1 L135.8 128.2 L137.4 128.1 L139.0 127.9 L140.6 127.3 L142.2 127.9 L143.8 128.3 L145.4 128.4 L147.0 128.9 L148.6 129.5 L150.2 129.3 L151.8 129.0 L153.4 129.0 L155.0 128.5 L156.6 127.8 L158.2 127.7 L159.8 127.9 L161.4 128.4 L163.0 129.4 L164.6 129.9 L166.2 130.3 L167.8 130.4 L169.4 130.2 L171.0 129.3 L172.6 129.2 L174.2 129.2 L175.8 129.1 L177.4 128.9 L179.0 129.6 L180.6 130.5 L182.2 130.9 L183.8 131.5 L185.4 131.4 L187.0 131.4 L188.6 131.1 L190.2 130.3 L191.8 130.0 L193.4 130.5 L195.0 130.7 L196.6 131.4 L198.2 132.0 L199.8 132.8 L201.4 133.3 L203.0 133.4 L204.6 132.5 L206.2 132.3 L207.8 131.5 L209.4 131.3 L211.0 130.9 L212.6 131.3 L214.2 132.1 L215.8 132.6 L217.4 132.9 L219.0 133.4 L220.6 133.3 L222.2 133.3 L223.8 132.1 L225.4 131.4 L227.0 131.1 L228.6 130.5 L230.2 131.0 L231.8 131.7 L233.4 132.0 L235.0 132.3 L236.6 132.7 L238.2 132.6 L239.8 131.8 L241.4 131.1 L243.0 130.4 L244.6 130.0 L246.2 129.8 L247.8 129.9 L249.4 130.3 L251.0 130.8 L252.6 131.6 L254.2 132.1 L255.8 131.8 L257.4 131.3 L259.0 130.7 L260.6 129.7 L262.2 129.6 L263.8 129.3 L265.4 129.6 L267.0 130.2 L268.6 130.7 L270.2 131.2 L271.8 131.4 L273.4 131.4 L275.0 131.2 L276.6 130.5 L278.2 130.1 L279.8 129.3 L281.4 129.5 L283.0 130.1 L284.6 130.3 L286.2 131.3 L287.8 131.8 L289.4 132.1 L291.0 132.5 L292.6 131.7 L294.2 131.5 L295.8 130.5 L297.4 130.1 L299.0 130.7 L300.6 130.7 L302.2 131.1 L303.8 132.1 L305.4 132.7 L307.0 133.3 L308.6 132.8 L310.2 132.5 L311.8 132.5 L313.4 131.7 L315.0 131.0 L316.6 131.1 L318.2 131.4 L319.8 132.2 L321.4 132.8 L323.0 133.6 L324.6 124.1 L326.5 119.0M35.0 119.0 L36.6 113.9 L38.2 106.8 L39.8 106.1 L41.4 106.2 L43.0 106.6 L44.6 106.7 L46.2 107.5 L47.8 108.0 L49.4 108.0 L51.0 107.9 L52.6 108.0 L54.2 108.0 L55.8 107.9 L57.4 108.0 L59.0 108.2 L60.6 109.1 L62.2 109.6 L63.8 110.0 L65.4 110.4 L67.0 110.4 L68.6 109.9 L70.2 109.5 L71.8 109.4 L73.4 109.3 L75.0 109.6 L76.6 109.7 L78.2 110.1 L79.8 110.0 L81.4 110.0 L83.0 110.2 L84.6 109.1 L86.2 109.0 L87.8 108.1 L89.4 107.8 L91.0 107.6 L92.6 108.3 L94.2 108.4 L95.8 108.4 L97.4 109.2 L99.0 109.3 L100.6 108.7 L102.2 108.5 L103.8 107.9 L105.4 107.9 L107.0 108.2 L108.6 108.2 L110.2 109.1 L111.8 109.7 L113.4 110.1 L115.0 110.5 L116.6 110.6 L118.2 110.3 L119.8 110.2 L121.4 109.5 L123.0 109.7 L124.6 109.9 L126.2 110.5 L127.8 110.7 L129.4 111.0 L131.0 110.9 L132.6 110.6 L134.2 109.9 L135.8 109.2 L137.4 108.8 L139.0 108.3 L140.6 108.0 L142.2 107.7 L143.8 108.4 L145.4 108.4 L147.0 108.3 L148.6 108.5 L150.2 108.0 L151.8 106.9 L153.4 106.4 L155.0 106.2 L156.6 106.4 L158.2 106.2 L159.8 106.9 L161.4 107.5 L163.0 107.9 L164.6 108.3 L166.2 108.6 L167.8 108.5 L169.4 108.0 L171.0 107.6 L172.6 107.7 L174.2 108.2 L175.8 108.9 L177.4 109.3 L179.0 109.8 L180.6 110.2 L182.2 109.6 L183.8 109.2 L185.4 108.8 L187.0 107.8 L188.6 106.9 L190.2 107.0 L191.8 106.9 L193.4 107.7 L195.0 107.7 L196.6 107.3 L198.2 107.0 L199.8 106.2 L201.4 105.5 L203.0 104.4 L204.6 103.7 L206.2 103.8 L207.8 103.8 L209.4 104.5 L211.0 104.9 L212.6 105.8 L214.2 106.1 L215.8 106.2 L217.4 105.7 L219.0 104.9 L220.6 105.1 L222.2 105.3 L223.8 105.9 L225.4 106.6 L227.0 107.4 L228.6 108.4 L230.2 108.7 L231.8 109.2 L233.4 108.8 L235.0 107.6 L236.6 107.3 L238.2 106.7 L239.8 107.0 L241.4 107.5 L243.0 107.9 L244.6 108.4 L246.2 107.9 L247.8 107.7 L249.4 107.1 L251.0 106.0 L252.6 105.0 L254.2 104.5 L255.8 103.7 L257.4 104.1 L259.0 104.3 L260.6 105.2 L262.2 105.4 L263.8 105.7 L265.4 105.5 L267.0 104.3 L268.6 103.8 L270.2 103.9 L271.8 103.7 L273.4 104.3 L275.0 105.6 L276.6 106.5 L278.2 107.1 L279.8 107.9 L281.4 107.7 L283.0 107.9 L284.6 107.3 L286.2 106.7 L287.8 107.0 L289.4 107.2 L291.0 107.4 L292.6 108.4 L294.2 108.7 L295.8 109.2 L297.4 109.0 L299.0 108.1 L300.6 107.2 L302.2 105.7 L303.8 105.5 L305.4 105.1 L307.0 105.5 L308.6 105.6 L310.2 106.1 L311.8 106.2 L313.4 106.2 L315.0 105.5 L316.6 104.3 L318.2 103.9 L319.8 103.5 L321.4 103.5 L323.0 103.9 L324.6 113.9 L326.5 119.0M35.0 119.0 L36.6 124.1 L38.2 131.8 L39.8 131.6 L41.4 130.9 L43.0 130.8 L44.6 130.9 L46.2 130.5 L47.8 130.9 L49.4 130.5 L51.0 131.1 L52.6 130.9 L54.2 130.7 L55.8 130.7 L57.4 130.2 L59.0 130.3 L60.6 129.7 L62.2 129.9 L63.8 129.5 L65.4 129.4 L67.0 129.3 L68.6 129.7 L70.2 129.4 L71.8 129.8 L73.4 129.1 L75.0 129.1 L76.6 128.9 L78.2 128.4 L79.8 128.6 L81.4 128.2 L83.0 128.5 L84.6 128.5 L86.2 128.5 L87.8 128.7 L89.4 128.5 L91.0 128.5 L92.6 128.8 L94.2 128.2 L95.8 128.3 L97.4 127.9 L99.0 128.3 L100.6 128.3 L102.2 128.7 L103.8 128.8 L105.4 128.8 L107.0 129.1 L108.6 129.0 L110.2 128.8 L111.8 129.1 L113.4 128.7 L115.0 128.8 L116.6 129.3 L118.2 129.4 L119.8 129.8 L121.4 130.0 L123.0 129.7 L124.6 129.9 L126.2 129.7 L127.8 130.0 L129.4 129.8 L131.0 129.5 L132.6 129.6 L134.2 129.9 L135.8 130.1 L137.4 130.1 L139.0 130.7 L140.6 130.5 L142.2 130.7 L143.8 130.2 L145.4 129.9 L147.0 130.1 L148.6 129.8 L150.2 129.7 L151.8 129.3 L153.4 129.5 L155.0 129.8 L156.6 130.0 L158.2 130.1 L159.8 130.1 L161.4 129.6 L163.0 129.4 L164.6 129.4 L166.2 128.9 L167.8 129.4 L169.4 129.4 L171.0 129.8 L172.6 129.8 L174.2 130.2 L175.8 130.5 L177.4 130.3 L179.0 129.9 L180.6 130.3 L182.2 130.1 L183.8 129.8 L185.4 129.8 L187.0 130.8 L188.6 131.2 L190.2 131.3 L191.8 131.9 L193.4 132.0 L195.0 132.5 L196.6 132.0 L198.2 132.4 L199.8 132.2 L201.4 131.8 L203.0 132.5 L204.6 132.8 L206.2 133.5 L207.8 134.0 L209.4 133.9 L211.0 133.9 L212.6 134.3 L214.2 133.7 L215.8 133.7 L217.4 133.3 L219.0 133.3 L220.6 133.4 L222.2 133.5 L223.8 133.7 L225.4 133.6 L227.0 134.1 L228.6 133.7 L230.2 133.4 L231.8 133.2 L233.4 132.1 L235.0 132.2 L236.6 131.5 L238.2 132.0 L239.8 132.2 L241.4 132.1 L243.0 132.4 L244.6 132.7 L246.2 132.2 L247.8 131.7 L249.4 131.1 L251.0 130.5 L252.6 130.5 L254.2 130.5 L255.8 130.5 L257.4 130.9 L259.0 131.2 L260.6 131.9 L262.2 131.9 L263.8 131.6 L265.4 131.3 L267.0 131.2 L268.6 131.0 L270.2 131.3 L271.8 131.1 L273.4 131.5 L275.0 132.4 L276.6 132.4 L278.2 133.0 L279.8 133.1 L281.4 133.4 L283.0 133.0 L284.6 132.9 L286.2 132.4 L287.8 132.8 L289.4 132.9 L291.0 133.2 L292.6 133.9 L294.2 134.4 L295.8 134.1 L297.4 134.2 L299.0 134.1 L300.6 133.6 L302.2 133.1 L303.8 133.0 L305.4 132.8 L307.0 133.3 L308.6 133.3 L310.2 133.3 L311.8 133.7 L313.4 133.8 L315.0 133.5 L316.6 133.0 L318.2 132.4 L319.8 131.8 L321.4 132.1 L323.0 131.8 L324.6 124.1 L326.5 119.0M35.0 119.0 L36.6 113.9 L38.2 107.4 L39.8 107.4 L41.4 107.3 L43.0 107.7 L44.6 108.1 L46.2 108.2 L47.8 108.3 L49.4 108.4 L51.0 107.7 L52.6 107.5 L54.2 107.7 L55.8 107.6 L57.4 107.2 L59.0 106.9 L60.6 106.9 L62.2 107.5 L63.8 107.2 L65.4 107.3 L67.0 107.5 L68.6 107.9 L70.2 108.1 L71.8 107.6 L73.4 107.8 L75.0 107.7 L76.6 107.5 L78.2 107.6 L79.8 107.3 L81.4 107.8 L83.0 108.1 L84.6 108.0 L86.2 108.2 L87.8 108.3 L89.4 108.6 L91.0 108.6 L92.6 108.6 L94.2 108.9 L95.8 108.9 L97.4 109.1 L99.0 109.0 L100.6 108.8 L102.2 109.3 L103.8 109.0 L105.4 109.6 L107.0 109.7 L108.6 109.5 L110.2 110.3 L111.8 110.4 L113.4 110.1 L115.0 110.2 L116.6 109.7 L118.2 110.1 L119.8 109.4 L121.4 109.3 L123.0 109.3 L124.6 109.6 L126.2 109.7 L127.8 109.6 L129.4 109.7 L131.0 109.8 L132.6 109.7 L134.2 109.5 L135.8 109.0 L137.4 108.6 L139.0 108.2 L140.6 108.4 L142.2 108.0 L143.8 107.7 L145.4 107.5 L147.0 107.6 L148.6 107.7 L150.2 107.8 L151.8 107.6 L153.4 107.4 L155.0 106.9 L156.6 106.6 L158.2 106.3 L159.8 105.9 L161.4 105.6 L163.0 105.6 L164.6 105.3 L166.2 105.9 L167.8 105.5 L169.4 105.8 L171.0 106.2 L172.6 106.1 L174.2 106.0 L175.8 106.3 L177.4 106.0 L179.0 106.1 L180.6 105.9 L182.2 105.3 L183.8 105.9 L185.4 105.8 L187.0 105.6 L188.6 106.1 L190.2 106.7 L191.8 106.6 L193.4 107.1 L195.0 107.2 L196.6 107.4 L198.2 107.2 L199.8 107.0 L201.4 106.9 L203.0 106.9 L204.6 106.8 L206.2 106.3 L207.8 106.6 L209.4 107.1 L211.0 106.9 L212.6 107.6 L214.2 107.8 L215.8 107.6 L217.4 107.7 L219.0 107.3 L220.6 106.9 L222.2 106.7 L223.8 106.1 L225.4 106.1 L227.0 105.6 L228.6 105.5 L230.2 105.9 L231.8 105.7 L233.4 106.1 L235.0 105.9 L236.6 105.5 L238.2 105.6 L239.8 105.2 L241.4 104.7 L243.0 104.8 L244.6 103.7 L246.2 103.6 L247.8 103.8 L249.4 103.3 L251.0 103.7 L252.6 104.0 L254.2 103.7 L255.8 104.1 L257.4 104.1 L259.0 104.6 L260.6 104.0 L262.2 104.3 L263.8 104.0 L265.4 103.7 L267.0 103.8 L268.6 103.4 L270.2 103.8 L271.8 104.1 L273.4 104.2 L275.0 104.8 L276.6 104.9 L278.2 105.4 L279.8 105.4 L281.4 105.7 L283.0 105.5 L284.6 105.4 L286.2 105.8 L287.8 105.3 L289.4 105.7 L291.0 105.5 L292.6 105.9 L294.2 106.2 L295.8 107.0 L297.4 107.2 L299.0 107.2 L300.6 107.2 L302.2 107.3 L303.8 107.6 L305.4 107.0 L307.0 107.0 L308.6 106.5 L310.2 106.1 L311.8 106.5 L313.4 106.0 L315.0 106.4 L316.6 106.8 L318.2 107.0 L319.8 106.9 L321.4 106.5 L323.0 106.5 L324.6 113.9 L326.5 119.0" stroke="#111" stroke-width="0.7" fill="none" stroke-linejoin="round"/>
<path d="M134.2 111.0 L135.8 111.2 L137.4 111.0 L139.0 110.8 L140.6 110.4 L142.2 110.5 L143.8 109.9 L145.4 109.6 L147.0 109.1 L148.6 108.8 L150.2 108.9 L151.8 109.5 L153.4 109.6 L155.0 109.2 L156.6 108.9 L158.2 108.5 L159.8 107.7 L161.4 107.1 L163.0 106.0 L164.6 105.9 L166.2 105.5 L167.8 106.0 L169.4 106.8 L171.0 107.1 L172.6 107.6 L174.2 107.4 L175.8 107.4 L177.4 107.3 L179.0 106.5 L180.6 105.8 L182.2 105.3 L183.8 105.0 L185.4 105.3 L187.0 105.8 L188.6 106.7 L190.2 107.1 L191.8 107.7 L193.4 108.2 L195.0 107.9 L196.6 107.2 L198.2 107.3 L199.8 106.7 L201.4 106.0 L203.0 106.2 L204.6 106.5 L206.2 106.9 L207.8 107.8 L209.4 108.3 L211.0 108.8 L212.6 108.7 L214.2 108.5 L215.8 108.6 L217.4 107.7 L219.0 106.9 L220.6 106.4 L222.2 106.4 L223.8 106.7 L225.4 107.1 L227.0 107.8 L228.6 108.4 L230.2 108.4 L231.8 108.4 L233.4 108.0 L235.0 107.5 L236.6 106.9 L238.2 106.0 L239.8 105.5 L241.4 105.4 L243.0 105.5 L244.6 106.0 L246.2 106.4 L247.8 106.9 L249.4 107.4 L251.0 107.1 L252.6 106.8 L254.2 105.7 L255.8 105.3 L257.4 104.8 L259.0 104.5 L260.6 104.4 L262.2 105.1 L263.8 106.3 L265.4 107.4 L267.0 107.7 L268.6 108.5 L270.2 108.9 L271.8 109.2M143.8 111.1 L145.4 110.5 L147.0 110.4 L148.6 110.5 L150.2 110.2 L151.8 109.8 L153.4 109.4 L155.0 109.6 L156.6 109.1 L158.2 108.9 L159.8 108.1 L161.4 107.9 L163.0 107.0 L164.6 106.1 L166.2 105.9 L167.8 105.6 L169.4 105.8 L171.0 105.8 L172.6 105.9 L174.2 105.6 L175.8 105.7 L177.4 105.3 L179.0 105.0 L180.6 104.3 L182.2 103.8 L183.8 103.8 L185.4 104.1 L187.0 104.1 L188.6 104.3 L190.2 104.9 L191.8 105.5 L193.4 105.2 L195.0 105.1 L196.6 105.3 L198.2 105.2 L199.8 104.9 L201.4 104.7 L203.0 104.6 L204.6 105.0 L206.2 105.3 L207.8 106.2 L209.4 106.6 L211.0 106.6 L212.6 106.8 L214.2 106.9 L215.8 106.5 L217.4 106.4 L219.0 106.4 L220.6 106.1 L222.2 106.4 L223.8 106.3 L225.4 106.8 L227.0 107.1 L228.6 107.2 L230.2 107.5 L231.8 107.2 L233.4 107.1 L235.0 106.1 L236.6 105.9 L238.2 105.3 L239.8 105.7 L241.4 105.3 L243.0 105.4 L244.6 105.8 L246.2 106.1 L247.8 106.0 L249.4 105.9 L251.0 105.1 L252.6 105.1 L254.2 104.1 L255.8 103.9 L257.4 103.6 L259.0 103.5 L260.6 103.6 L262.2 103.8 L263.8 104.1 L265.4 104.5 L267.0 104.3 L268.6 104.5 L270.2 104.0 L271.8 103.7 L273.4 103.4 L275.0 103.6 L276.6 103.3 L278.2 103.4 L279.8 104.1 L281.4 104.7 L283.0 105.1 L284.6 105.2 L286.2 105.9 L287.8 106.0 L289.4 105.5 L291.0 105.3 L292.6 105.1 L294.2 105.3 L295.8 105.1 L297.4 105.9 L299.0 106.1 L300.6 106.9 L302.2 107.3 L303.8 107.5 L305.4 107.6 L307.0 107.2 L308.6 107.3 L310.2 107.6 L311.8 107.5 L313.4 108.2 L315.0 108.8 L316.6 109.3 L318.2 109.4M140.6 111.2 L142.2 110.6 L143.8 110.6 L145.4 110.4 L147.0 109.8 L148.6 109.9 L150.2 109.2 L151.8 109.4 L153.4 109.0 L155.0 109.2 L156.6 108.9 L158.2 109.3 L159.8 108.6 L161.4 108.2 L163.0 107.1 L164.6 106.4 L166.2 106.2 L167.8 106.4 L169.4 106.5 L171.0 106.6 L172.6 106.5 L174.2 106.4 L175.8 106.0 L177.4 105.0 L179.0 104.4 L180.6 104.0 L182.2 103.2 L183.8 103.5 L185.4 103.4 L187.0 103.8 L188.6 103.4 L190.2 103.2 L191.8 103.2 L193.4 102.4 L195.0 101.8 L196.6 101.7 L198.2 101.5 L199.8 101.5 L201.4 101.6 L203.0 102.4 L204.6 102.4 L206.2 102.5 L207.8 102.5 L209.4 102.2 L211.0 101.7 L212.6 102.0 L214.2 101.7 L215.8 102.4 L217.4 102.8 L219.0 103.3 L220.6 104.2 L222.2 104.1 L223.8 104.1 L225.4 104.5 L227.0 104.5 L228.6 104.5 L230.2 104.2 L231.8 105.2 L233.4 105.3 L235.0 106.3 L236.6 106.4 L238.2 106.9 L239.8 106.8 L241.4 106.2 L243.0 106.3 L244.6 105.9 L246.2 105.6 L247.8 105.9 L249.4 106.2 L251.0 106.4 L252.6 107.1 L254.2 106.9 L255.8 106.1 L257.4 105.6 L259.0 105.5 L260.6 104.7 L262.2 104.7 L263.8 104.6 L265.4 104.9 L267.0 105.0 L268.6 104.4 L270.2 104.5 L271.8 103.6 L273.4 103.4 L275.0 102.6 L276.6 102.3 L278.2 102.0 L279.8 102.2 L281.4 102.1 L283.0 102.6 L284.6 102.3 L286.2 102.3 L287.8 102.1 L289.4 101.6 L291.0 102.3 L292.6 103.1 L294.2 104.6 L295.8 106.0 L297.4 106.8 L299.0 108.0 L300.6 109.1M135.8 110.9 L137.4 110.6 L139.0 109.8 L140.6 109.4 L142.2 109.1 L143.8 108.7 L145.4 108.2 L147.0 107.6 L148.6 107.1 L150.2 106.6 L151.8 106.3 L153.4 105.8 L155.0 105.3 L156.6 104.7 L158.2 104.9 L159.8 105.0 L161.4 105.3 L163.0 105.7 L164.6 105.4 L166.2 106.0 L167.8 105.5 L169.4 105.1 L171.0 105.2 L172.6 104.7 L174.2 104.6 L175.8 104.5 L177.4 104.6 L179.0 104.7 L180.6 104.5 L182.2 104.8 L183.8 104.9 L185.4 105.5 L187.0 105.0 L188.6 105.1 L190.2 104.6 L191.8 104.2 L193.4 103.9 L195.0 103.1 L196.6 103.4 L198.2 102.8 L199.8 102.7 L201.4 103.0 L203.0 103.1 L204.6 103.0 L206.2 103.5 L207.8 103.2 L209.4 103.0 L211.0 102.9 L212.6 102.3 L214.2 102.0 L215.8 101.5 L217.4 101.2 L219.0 100.9 L220.6 101.1 L222.2 101.0 L223.8 101.3 L225.4 101.7 L227.0 101.7 L228.6 102.1 L230.2 101.7 L231.8 101.8 L233.4 101.5 L235.0 101.3 L236.6 101.0 L238.2 101.0 L239.8 100.9 L241.4 100.5 L243.0 100.9 L244.6 101.2 L246.2 101.6 L247.8 101.8 L249.4 102.5 L251.0 102.7 L252.6 102.4 L254.2 102.5 L255.8 102.3 L257.4 102.0 L259.0 101.8 L260.6 101.7 L262.2 102.3 L263.8 102.3 L265.4 102.3 L267.0 102.7 L268.6 103.6 L270.2 103.9 L271.8 104.1 L273.4 104.4 L275.0 104.2 L276.6 103.8 L278.2 103.8 L279.8 103.6 L281.4 103.6 L283.0 103.4 L284.6 103.1 L286.2 104.2 L287.8 105.4 L289.4 106.3 L291.0 107.0 L292.6 107.8 L294.2 108.8 L295.8 109.1" stroke="#151515" stroke-width="0.65" fill="none" stroke-linejoin="round"/>
<path d="M36.0 119.0 L38.0 106.0 L41.0 102.0 L44.0 100.0 L47.0 99.0 L50.0 97.5 L53.0 96.5 L56.0 99.0 L59.0 101.0 L62.0 103.0 L66.0 106.0 L70.0 108.0" stroke="#222" stroke-width="0.55" fill="none" stroke-linejoin="round"/>
<path d="M36.0 119.0 L38.0 132.0 L40.0 135.0 L42.0 137.0 L44.0 139.5 L46.0 137.0 L49.0 136.0 L52.0 134.0 L56.0 133.0 L60.0 131.0 L66.0 130.0" stroke="#222" stroke-width="0.55" fill="none" stroke-linejoin="round"/>
<path d="M34.5 119.0 L35.5 128.0 L36.5 133.0 L37.5 126.0 L38.5 119.0" stroke="#222" stroke-width="0.55" fill="none" stroke-linejoin="round"/>
<path d="M268.0 108.0 L272.0 104.0 L276.0 103.0 L280.0 101.0 L284.0 104.0 L288.0 106.0 L294.0 105.0 L300.0 104.0 L305.0 106.0 L312.0 105.0 L318.0 108.0 L324.0 105.5 L326.0 110.0" stroke="#222" stroke-width="0.55" fill="none" stroke-linejoin="round"/>
<path d="M284.0 129.0 L292.5 132.5 L300.0 133.0 L307.5 135.0 L310.0 137.0 L317.5 133.8 L321.3 137.5 L323.8 132.5 L325.0 125.0" stroke="#222" stroke-width="0.55" fill="none" stroke-linejoin="round"/>
<path d="M232.0 108.0 L236.0 103.0 L240.0 101.0 L245.0 102.0 L250.0 104.0 L256.0 106.0" stroke="#222" stroke-width="0.55" fill="none" stroke-linejoin="round"/>
<path d="M180.0 126.0 L186.0 131.0 L192.0 129.0 L198.0 131.0 L206.0 130.0 L214.0 132.0 L222.0 129.0 L230.0 131.0" stroke="#222" stroke-width="0.55" fill="none" stroke-linejoin="round"/>
<path d="M210.0 110.0 L214.0 106.0 L220.0 105.0 L226.0 106.0 L232.0 104.5 L238.0 107.0" stroke="#222" stroke-width="0.55" fill="none" stroke-linejoin="round"/>
<path d="M37.0 110.0 L40.0 104.0 L44.0 102.5 L48.0 104.0 L52.0 102.0 L57.0 104.5 L62.0 106.0 L68.0 108.5 L75.0 109.0" stroke="#222" stroke-width="0.55" fill="none" stroke-linejoin="round"/>
<path d="M37.0 128.0 L40.0 133.0 L45.0 134.5 L50.0 133.0 L55.0 134.0 L60.0 132.0 L66.0 131.5 L72.0 129.5" stroke="#222" stroke-width="0.55" fill="none" stroke-linejoin="round"/>
<path d="M60.0 110.0 L66.0 106.5 L72.0 105.5 L78.0 107.5 L84.0 106.0 L90.0 108.5 L98.0 110.0" stroke="#222" stroke-width="0.55" fill="none" stroke-linejoin="round"/>
<path d="M70.0 129.0 L78.0 132.0 L86.0 131.0 L94.0 132.5 L102.0 130.5 L110.0 129.5" stroke="#222" stroke-width="0.55" fill="none" stroke-linejoin="round"/>
<path d="M37 118.6H325" stroke="#eee" stroke-width="1" stroke-dasharray="1.4 2.2" fill="none"/>
<path d="M38 121.6 L80 122 L140 121 L200 122.2 L260 121.4 L322 121" stroke="#6a6a6a" stroke-width="0.6" fill="none"/>
<defs><marker id="ah" markerWidth="6" markerHeight="6" refX="4.2" refY="2.5" orient="auto" markerUnits="userSpaceOnUse"><path d="M0 0L5 2.5L0 5Z" fill="#111"/></marker><marker id="ahg" markerWidth="6" markerHeight="6" refX="3.5" refY="2" orient="auto" markerUnits="userSpaceOnUse"><path d="M0 0L4 2L0 4Z" fill="#777"/></marker></defs>
<path d="M193.4 77.2L180.9 57" stroke="#111" stroke-width="1.1" marker-end="url(#ah)" fill="none"/>
<path d="M193.4 77.2L165.2 87.3" stroke="#111" stroke-width="1.1" marker-end="url(#ah)" fill="none"/>
<text x="196.00" y="80.42" font-family="Liberation Sans" font-size="9" font-weight="bold" text-anchor="start" fill="#111" textLength="41.2" lengthAdjust="spacingAndGlyphs" stroke="#111" stroke-width="0.3">miR-142-3p</text>
<path d="M196.2 138.7L186.3 116.5" stroke="#808080" stroke-width="0.9" marker-end="url(#ahg)" fill="none"/>
<path d="M196.2 138.7L213.6 117.5" stroke="#808080" stroke-width="0.9" marker-end="url(#ahg)" fill="none"/>
<text x="175.00" y="148.22" font-family="Liberation Sans" font-size="9" font-weight="bold" text-anchor="start" fill="#111" textLength="41.4" lengthAdjust="spacingAndGlyphs" stroke="#111" stroke-width="0.3">miR-142-5p</text>
<rect x="146.5" y="16.3" width="55.7" height="5.6" fill="#fff"/>
<path d="M148 18.2l2.4 1.3" stroke="#444" stroke-width="0.7"/>
<text x="158.30" y="20.43" font-family="Liberation Sans" font-size="4" font-weight="normal" text-anchor="start" fill="#5a5a5a" textLength="42.4" lengthAdjust="spacingAndGlyphs" >mmu-miR-142-3p.7(1A)</text>
<rect x="204.2" y="16.3" width="51.7" height="5.6" fill="#fff"/>
<path d="M205.7 18.2l2.4 1.3" stroke="#444" stroke-width="0.7"/>
<text x="214.80" y="20.43" font-family="Liberation Sans" font-size="4" font-weight="normal" text-anchor="start" fill="#5a5a5a" textLength="39.6" lengthAdjust="spacingAndGlyphs" >mmu-miR-142-3p.7(2)</text>
<rect x="258.8" y="16.3" width="55.3" height="5.6" fill="#fff"/>
<path d="M260.3 18.2l2.4 1.3" stroke="#444" stroke-width="0.7"/>
<text x="269.30" y="20.43" font-family="Liberation Sans" font-size="4" font-weight="normal" text-anchor="start" fill="#5a5a5a" textLength="43.3" lengthAdjust="spacingAndGlyphs" >mmu-miR-142-3p.7(1A)</text>
<rect x="39.5" y="170.9" width="51" height="5.6" fill="#fff"/>
<path d="M41 172.6l2.4 1.3" stroke="#444" stroke-width="0.7"/>
<text x="48.70" y="175.13" font-family="Liberation Sans" font-size="4" font-weight="normal" text-anchor="start" fill="#5a5a5a" textLength="40" lengthAdjust="spacingAndGlyphs" >mmu-miR-142-5p.7(2)</text>
<path d="M28.5 192.3H332.5" stroke="#111" stroke-width="2.1" fill="none"/>
<path d="M33.6 188.4L27.6 192.3L33.6 196.2M327.6 188.4L333.6 192.3L327.6 196.2" fill="none" stroke="#111" stroke-width="1.8" stroke-linejoin="miter"/>
<text x="28.00" y="203.44" font-family="Liberation Sans" font-size="9.6" font-weight="bold" text-anchor="start" fill="#111" textLength="35.8" lengthAdjust="spacingAndGlyphs" stroke="#111" stroke-width="0.3">Up in KO</text>
<text x="88.90" y="203.44" font-family="Liberation Sans" font-size="9.6" font-weight="bold" text-anchor="start" fill="#111" textLength="168" lengthAdjust="spacingAndGlyphs" stroke="#111" stroke-width="0.3">mRNA transcripts ranked by fold change</text>
<text x="283.80" y="203.44" font-family="Liberation Sans" font-size="9.6" font-weight="bold" text-anchor="start" fill="#111" textLength="48.2" lengthAdjust="spacingAndGlyphs" stroke="#111" stroke-width="0.3">Down in KO</text>
<text x="344.70" y="8.44" font-family="Liberation Sans" font-size="11" font-weight="bold" text-anchor="start" fill="#111" >B</text>
<text x="370.90" y="7.73" font-family="Liberation Sans" font-size="9.3" font-weight="bold" text-anchor="start" fill="#111" textLength="115" lengthAdjust="spacingAndGlyphs" stroke="#111" stroke-width="0.3">Mature miR-142 expression</text>
<path d="M378.3 27.000000000000014V147.9H511.5" stroke="#111" stroke-width="1.8" fill="none"/>
<path d="M375.3 147.90H378.3" stroke="#111" stroke-width="1.2"/>
<text x="374.90" y="149.80" font-family="Liberation Sans" font-size="5.3" font-weight="bold" text-anchor="end" fill="#111" stroke="#111" stroke-width="0.2">0</text>
<path d="M375.3 123.82H378.3" stroke="#111" stroke-width="1.2"/>
<text x="374.90" y="125.72" font-family="Liberation Sans" font-size="5.3" font-weight="bold" text-anchor="end" fill="#111" stroke="#111" stroke-width="0.2">500</text>
<path d="M375.3 99.74H378.3" stroke="#111" stroke-width="1.2"/>
<text x="374.90" y="101.64" font-family="Liberation Sans" font-size="5.3" font-weight="bold" text-anchor="end" fill="#111" stroke="#111" stroke-width="0.2">1000</text>
<path d="M375.3 75.66H378.3" stroke="#111" stroke-width="1.2"/>
<text x="374.90" y="77.56" font-family="Liberation Sans" font-size="5.3" font-weight="bold" text-anchor="end" fill="#111" stroke="#111" stroke-width="0.2">1500</text>
<path d="M375.3 51.58H378.3" stroke="#111" stroke-width="1.2"/>
<text x="374.90" y="53.48" font-family="Liberation Sans" font-size="5.3" font-weight="bold" text-anchor="end" fill="#111" stroke="#111" stroke-width="0.2">2000</text>
<path d="M375.3 27.50H378.3" stroke="#111" stroke-width="1.2"/>
<text x="374.90" y="29.40" font-family="Liberation Sans" font-size="5.3" font-weight="bold" text-anchor="end" fill="#111" stroke="#111" stroke-width="0.2">2500</text>
<path d="M412.8 147.9v3M480.3 147.9v3" stroke="#111" stroke-width="1.3"/>
<text transform="translate(358.5,87.3) rotate(-90)" font-family="Liberation Sans" font-size="9.2" font-weight="bold" text-anchor="middle" fill="#111">Relative expression</text>
<defs>
<pattern id="pFO" width="2" height="1.6" patternUnits="userSpaceOnUse"><rect width="2" height="1.6" fill="#6a6a6a"/><rect width="2" height="0.6" fill="#3a3a3a"/></pattern>
<pattern id="pB1" width="2" height="1.6" patternUnits="userSpaceOnUse"><rect width="2" height="1.6" fill="#858585"/><rect width="2" height="0.6" fill="#555"/></pattern>
<pattern id="pB2" width="3" height="3" patternUnits="userSpaceOnUse"><rect width="3" height="3" fill="#fff"/><rect width="1.5" height="1.5" fill="#111"/><rect x="1.5" y="1.5" width="1.5" height="1.5" fill="#111"/></pattern>
</defs>
<rect x="382.2" y="28.70" width="10.2" height="4.4" fill="#fff" stroke="#111" stroke-width="1.1"/>
<text x="396.20" y="33.56" font-family="Liberation Sans" font-size="6.3" font-weight="normal" text-anchor="start" fill="#111" stroke="#111" stroke-width="0.2">SP MZ B cells</text>
<rect x="382.2" y="37.77" width="10.2" height="4.4" fill="url(#pFO)" stroke="#111" stroke-width="1.1"/>
<text x="396.20" y="42.63" font-family="Liberation Sans" font-size="6.3" font-weight="normal" text-anchor="start" fill="#111" stroke="#111" stroke-width="0.2">SP FO B cells</text>
<rect x="382.2" y="46.84" width="10.2" height="4.4" fill="url(#pB1)" stroke="#111" stroke-width="1.1"/>
<text x="396.20" y="51.70" font-family="Liberation Sans" font-size="6.3" font-weight="normal" text-anchor="start" fill="#111" stroke="#111" stroke-width="0.2">PC B1 B cell</text>
<rect x="382.2" y="55.91" width="10.2" height="4.4" fill="url(#pB2)" stroke="#111" stroke-width="1.1"/>
<text x="396.20" y="60.77" font-family="Liberation Sans" font-size="6.3" font-weight="normal" text-anchor="start" fill="#111" stroke="#111" stroke-width="0.2">SP B2 B cell</text>
<rect x="382.2" y="64.98" width="10.2" height="4.4" fill="#8a8a8a" stroke="#111" stroke-width="1.1"/>
<text x="396.20" y="69.84" font-family="Liberation Sans" font-size="6.3" font-weight="normal" text-anchor="start" fill="#111" stroke="#111" stroke-width="0.2">Liver</text>
<rect x="383.90" y="145.97" width="6.9" height="1.93" fill="#fff" stroke="#111" stroke-width="1"/>
<rect x="394.15" y="142.12" width="6.9" height="5.78" fill="url(#pFO)" stroke="#111" stroke-width="1"/>
<rect x="404.40" y="146.70" width="6.9" height="1.20" fill="url(#pB1)" stroke="#111" stroke-width="1"/>
<rect x="414.65" y="144.05" width="6.9" height="3.85" fill="url(#pB2)" stroke="#111" stroke-width="1"/>
<rect x="424.90" y="147.61" width="6.9" height="0.29" fill="#8a8a8a" stroke="#111" stroke-width="1"/>
<rect x="451.80" y="110.48" width="6.9" height="37.42" fill="#fff" stroke="#111" stroke-width="1"/>
<path d="M455.25 110.48V106.24M453.25 106.24h4" stroke="#111" stroke-width="1.1" fill="none"/>
<rect x="462.05" y="46.67" width="6.9" height="101.23" fill="url(#pFO)" stroke="#111" stroke-width="1"/>
<path d="M465.50 46.67V37.42M463.50 37.42h4" stroke="#111" stroke-width="1.1" fill="none"/>
<rect x="472.30" y="99.74" width="6.9" height="48.16" fill="url(#pB1)" stroke="#111" stroke-width="1"/>
<path d="M475.75 99.74V92.52M473.75 92.52h4" stroke="#111" stroke-width="1.1" fill="none"/>
<rect x="482.55" y="72.96" width="6.9" height="74.94" fill="url(#pB2)" stroke="#111" stroke-width="1"/>
<path d="M486.00 72.96V68.34M484.00 68.34h4" stroke="#111" stroke-width="1.1" fill="none"/>
<rect x="492.80" y="147.03" width="6.9" height="0.87" fill="#8a8a8a" stroke="#111" stroke-width="1"/>
<text x="382.60" y="160.67" font-family="Liberation Sans" font-size="9.7" font-weight="bold" text-anchor="start" fill="#111" textLength="52" lengthAdjust="spacingAndGlyphs" >miR-142-5p</text>
<text x="451.40" y="160.67" font-family="Liberation Sans" font-size="9.7" font-weight="bold" text-anchor="start" fill="#111" textLength="52" lengthAdjust="spacingAndGlyphs" >miR-142-3p</text>
<text x="344.20" y="178.02" font-family="Liberation Sans" font-size="11.8" font-weight="bold" text-anchor="start" fill="#111" >D</text>
<text x="367.80" y="177.24" font-family="Liberation Sans" font-size="9.6" font-weight="bold" text-anchor="start" fill="#111" textLength="109.2" lengthAdjust="spacingAndGlyphs" stroke="#111" stroke-width="0.3">3’UTR Luciferase Reporter</text>
<text x="410.50" y="188.84" font-family="Liberation Sans" font-size="9.6" font-weight="bold" text-anchor="start" fill="#111" textLength="24.2" lengthAdjust="spacingAndGlyphs" stroke="#111" stroke-width="0.3">Assay</text>
<path d="M370.1 194.3V355.8H514.8" stroke="#111" stroke-width="1.7" fill="none"/>
<path d="M370.10 355.8v3.3" stroke="#111" stroke-width="1.4"/>
<text x="370.10" y="369.45" font-family="Liberation Sans" font-size="8.8" font-weight="bold" text-anchor="middle" fill="#111" stroke="#111" stroke-width="0.15">0.0</text>
<path d="M417.90 355.8v3.3" stroke="#111" stroke-width="1.4"/>
<text x="417.90" y="369.45" font-family="Liberation Sans" font-size="8.8" font-weight="bold" text-anchor="middle" fill="#111" stroke="#111" stroke-width="0.15">0.5</text>
<path d="M465.70 355.8v3.3" stroke="#111" stroke-width="1.4"/>
<text x="465.70" y="369.45" font-family="Liberation Sans" font-size="8.8" font-weight="bold" text-anchor="middle" fill="#111" stroke="#111" stroke-width="0.15">1.0</text>
<path d="M513.50 355.8v3.3" stroke="#111" stroke-width="1.4"/>
<text x="513.50" y="369.45" font-family="Liberation Sans" font-size="8.8" font-weight="bold" text-anchor="middle" fill="#111" stroke="#111" stroke-width="0.15">1.5</text>
<path d="M366.70000000000005 206H370.1" stroke="#111" stroke-width="1.4"/>
<rect x="370.1" y="196.1" width="95.03" height="8.3" fill="#111" stroke="#111" stroke-width="0.9"/>
<rect x="370.1" y="208.5" width="102.27" height="7.3" fill="#fff" stroke="#111" stroke-width="1.5"/>
<path d="M465.13 200.2H471.24M471.24 197.7v5" stroke="#111" stroke-width="1.3" fill="none"/>
<path d="M472.87 212H491.03M491.03 209.5v5" stroke="#111" stroke-width="1.3" fill="none"/>
<path d="M366.70000000000005 233.5H370.1" stroke="#111" stroke-width="1.4"/>
<rect x="370.1" y="223.6" width="39.20" height="8.3" fill="#111" stroke="#111" stroke-width="0.9"/>
<rect x="370.1" y="236.0" width="96.06" height="7.3" fill="#fff" stroke="#111" stroke-width="1.5"/>
<path d="M409.30 227.7H426.98M426.98 225.2v5" stroke="#111" stroke-width="1.3" fill="none"/>
<path d="M466.66 239.5H470.48M470.48 237.0v5" stroke="#111" stroke-width="1.3" fill="none"/>
<path d="M366.70000000000005 260.5H370.1" stroke="#111" stroke-width="1.4"/>
<rect x="370.1" y="250.6" width="109.46" height="8.3" fill="#111" stroke="#111" stroke-width="0.9"/>
<rect x="370.1" y="263.0" width="96.06" height="7.3" fill="#fff" stroke="#111" stroke-width="1.5"/>
<path d="M479.56 254.7H482.43M482.43 252.2v5" stroke="#111" stroke-width="1.3" fill="none"/>
<path d="M466.66 266.5H471.24M471.24 264.0v5" stroke="#111" stroke-width="1.3" fill="none"/>
<path d="M366.70000000000005 287.5H370.1" stroke="#111" stroke-width="1.4"/>
<rect x="370.1" y="277.6" width="68.35" height="8.3" fill="#111" stroke="#111" stroke-width="0.9"/>
<rect x="370.1" y="290.0" width="96.06" height="7.3" fill="#fff" stroke="#111" stroke-width="1.5"/>
<path d="M438.45 281.7H443.90M443.90 279.2v5" stroke="#111" stroke-width="1.3" fill="none"/>
<path d="M466.66 293.5H479.08M479.08 291.0v5" stroke="#111" stroke-width="1.3" fill="none"/>
<path d="M366.70000000000005 315H370.1" stroke="#111" stroke-width="1.4"/>
<rect x="370.1" y="305.1" width="112.52" height="8.3" fill="#111" stroke="#111" stroke-width="0.9"/>
<rect x="370.1" y="317.5" width="96.25" height="7.3" fill="#fff" stroke="#111" stroke-width="1.5"/>
<path d="M482.62 309.2H488.36M488.36 306.7v5" stroke="#111" stroke-width="1.3" fill="none"/>
<path d="M466.85 321H468.47M468.47 318.5v5" stroke="#111" stroke-width="1.3" fill="none"/>
<path d="M366.70000000000005 342H370.1" stroke="#111" stroke-width="1.4"/>
<rect x="370.1" y="332.1" width="71.51" height="8.3" fill="#111" stroke="#111" stroke-width="0.9"/>
<rect x="370.1" y="344.5" width="96.25" height="7.3" fill="#fff" stroke="#111" stroke-width="1.5"/>
<path d="M441.61 336.2H445.43M445.43 333.7v5" stroke="#111" stroke-width="1.3" fill="none"/>
<path d="M466.85 348H482.14M482.14 345.5v5" stroke="#111" stroke-width="1.3" fill="none"/>
<text x="338.80" y="204.02" font-family="Liberation Sans" font-size="9" font-weight="bold" text-anchor="start" fill="#111" textLength="24.0" lengthAdjust="spacingAndGlyphs" stroke="#111" stroke-width="0.4">WASL</text>
<text x="343.30" y="215.12" font-family="Liberation Sans" font-size="9" font-weight="bold" text-anchor="start" fill="#111" textLength="15.0" lengthAdjust="spacingAndGlyphs" stroke="#111" stroke-width="0.4">mut</text>
<text x="341.60" y="236.82" font-family="Liberation Sans" font-size="9" font-weight="bold" text-anchor="start" fill="#111" textLength="24.0" lengthAdjust="spacingAndGlyphs" stroke="#111" stroke-width="0.4">WASL</text>
<path d="M365.9 233.7h1.2" stroke="#111" stroke-width="1.4"/>
<text x="340.70" y="258.52" font-family="Liberation Sans" font-size="9" font-weight="bold" text-anchor="start" fill="#111" textLength="25.0" lengthAdjust="spacingAndGlyphs" stroke="#111" stroke-width="0.4">RAG-1</text>
<text x="345.70" y="269.62" font-family="Liberation Sans" font-size="9" font-weight="bold" text-anchor="start" fill="#111" textLength="15.0" lengthAdjust="spacingAndGlyphs" stroke="#111" stroke-width="0.4">mut</text>
<text x="340.60" y="290.82" font-family="Liberation Sans" font-size="9" font-weight="bold" text-anchor="start" fill="#111" textLength="25.0" lengthAdjust="spacingAndGlyphs" stroke="#111" stroke-width="0.4">RAG-1</text>
<path d="M365.9 287.7h1.2" stroke="#111" stroke-width="1.4"/>
<text x="332.80" y="313.02" font-family="Liberation Sans" font-size="9" font-weight="bold" text-anchor="start" fill="#111" textLength="31.6" lengthAdjust="spacingAndGlyphs" stroke="#111" stroke-width="0.4">BAFF-R</text>
<text x="341.10" y="324.12" font-family="Liberation Sans" font-size="9" font-weight="bold" text-anchor="start" fill="#111" textLength="15.0" lengthAdjust="spacingAndGlyphs" stroke="#111" stroke-width="0.4">mut</text>
<text x="334.00" y="345.32" font-family="Liberation Sans" font-size="9" font-weight="bold" text-anchor="start" fill="#111" textLength="31.6" lengthAdjust="spacingAndGlyphs" stroke="#111" stroke-width="0.4">BAFF-R</text>
<path d="M365.9 342.2h1.2" stroke="#111" stroke-width="1.4"/>
<rect x="485.7" y="194.4" width="6.8" height="4.5" fill="#fff" stroke="#111" stroke-width="1.2"/>
<rect x="485.7" y="202.9" width="6.8" height="4.4" fill="#111" stroke="#111" stroke-width="1.2"/>
<text x="494.90" y="198.63" font-family="Liberation Sans" font-size="5.4" font-weight="normal" text-anchor="start" fill="#111" stroke="#111" stroke-width="0.25">Control</text>
<text x="494.90" y="207.13" font-family="Liberation Sans" font-size="5.4" font-weight="normal" text-anchor="start" fill="#111" stroke="#111" stroke-width="0.25">miR-142</text>
<path d="M488.2 229.5H491.3V239.8H488.2" stroke="#111" stroke-width="1.3" fill="none"/>
<text x="494.80" y="239.83" font-family="Liberation Sans" font-size="10" font-weight="bold" text-anchor="start" fill="#111" textLength="19.2" lengthAdjust="spacingAndGlyphs" >****</text>
<path d="M488.2 282H491.3V294H488.2" stroke="#111" stroke-width="1.3" fill="none"/>
<text x="494.80" y="293.18" font-family="Liberation Sans" font-size="10" font-weight="bold" text-anchor="start" fill="#111" textLength="9" lengthAdjust="spacingAndGlyphs" >**</text>
<path d="M488.2 337.6H491.3V348.8H488.2" stroke="#111" stroke-width="1.3" fill="none"/>
<text x="494.80" y="348.38" font-family="Liberation Sans" font-size="10" font-weight="bold" text-anchor="start" fill="#111" textLength="19.2" lengthAdjust="spacingAndGlyphs" >****</text>
<text x="411.2" y="381.47" font-family="Liberation Sans" font-size="10.8" font-weight="bold" fill="#111" stroke="#111" stroke-width="0.2" xml:space="preserve" textLength="63.3" lengthAdjust="spacingAndGlyphs">Fold  change</text>
<text x="0.60" y="225.70" font-family="Liberation Sans" font-size="12" font-weight="bold" text-anchor="start" fill="#111" >C</text>
<rect x="3.1" y="249.00" width="31.1" height="11.90" fill="#d9d9d9" stroke="#454545" stroke-width="1.2"/>
<text x="8.80" y="258.17" font-family="Liberation Sans" font-size="10.4" font-weight="bold" text-anchor="start" fill="#111" textLength="19.7" lengthAdjust="spacingAndGlyphs" stroke="#111" stroke-width="0.3">ORF</text>
<path d="M34.8 255H60.5" stroke="#111" stroke-width="1.9"/>
<text x="37.60" y="246.28" font-family="Liberation Sans" font-size="8.6" font-weight="bold" text-anchor="start" fill="#111" textLength="73.8" lengthAdjust="spacingAndGlyphs" stroke="#111" stroke-width="0.3">BAFF-R-3’UTR: 0.3kb</text>
<path d="M39 256.90000000000003Q39.8 257.6 41.4 257.6H43.449999999999996Q45.35 257.6 46.65 260.70000000000005Q47.949999999999996 257.6 49.85 257.6H51.9Q53.5 257.6 54.3 256.90000000000003" stroke="#111" stroke-width="1.5" fill="none" stroke-linejoin="round"/>
<text x="25.90" y="268.58" font-family="Liberation Sans" font-size="8.6" font-weight="bold" text-anchor="start" fill="#111" textLength="41.3" lengthAdjust="spacingAndGlyphs" stroke="#111" stroke-width="0.3">miR-142-3p</text>
<rect x="3.1" y="286.80" width="31.1" height="12.00" fill="#d9d9d9" stroke="#454545" stroke-width="1.2"/>
<text x="8.80" y="296.02" font-family="Liberation Sans" font-size="10.4" font-weight="bold" text-anchor="start" fill="#111" textLength="19.7" lengthAdjust="spacingAndGlyphs" stroke="#111" stroke-width="0.3">ORF</text>
<path d="M34.8 293H127" stroke="#111" stroke-width="1.9"/>
<text x="38.00" y="284.48" font-family="Liberation Sans" font-size="8.6" font-weight="bold" text-anchor="start" fill="#111" textLength="68.2" lengthAdjust="spacingAndGlyphs" stroke="#111" stroke-width="0.3">RAG1-3’UTR: 3.2kb</text>
<path d="M78.6 294.8Q79.39999999999999 295.5 81.0 295.5H83.1Q85.0 295.5 86.3 298.6Q87.6 295.5 89.5 295.5H91.6Q93.2 295.5 94 294.8" stroke="#111" stroke-width="1.5" fill="none" stroke-linejoin="round"/>
<text x="65.60" y="305.98" font-family="Liberation Sans" font-size="8.6" font-weight="bold" text-anchor="start" fill="#111" textLength="41.6" lengthAdjust="spacingAndGlyphs" stroke="#111" stroke-width="0.3">miR-142-3p</text>
<rect x="3.1" y="324.20" width="31.1" height="12.00" fill="#d9d9d9" stroke="#454545" stroke-width="1.2"/>
<text x="8.80" y="333.42" font-family="Liberation Sans" font-size="10.4" font-weight="bold" text-anchor="start" fill="#111" textLength="19.7" lengthAdjust="spacingAndGlyphs" stroke="#111" stroke-width="0.3">ORF</text>
<path d="M34.8 330.6H118.5" stroke="#111" stroke-width="1.9"/>
<text x="38.00" y="320.88" font-family="Liberation Sans" font-size="8.6" font-weight="bold" text-anchor="start" fill="#111" textLength="69.5" lengthAdjust="spacingAndGlyphs" stroke="#111" stroke-width="0.3">WASL-3’UTR: 2.5kb</text>
<path d="M40 333.2Q40.8 333.9 42.4 333.9H44.449999999999996Q46.35 333.9 47.65 337.0Q48.949999999999996 333.9 50.85 333.9H52.9Q54.5 333.9 55.3 333.2" stroke="#111" stroke-width="1.5" fill="none" stroke-linejoin="round"/>
<path d="M59.9 333.2Q60.699999999999996 333.9 62.3 333.9H64.35Q66.25 333.9 67.55 337.0Q68.85 333.9 70.75 333.9H72.8Q74.4 333.9 75.2 333.2" stroke="#111" stroke-width="1.5" fill="none" stroke-linejoin="round"/>
<path d="M80 333.2Q80.8 333.9 82.4 333.9H84.45Q86.35000000000001 333.9 87.65 337.0Q88.95 333.9 90.85000000000001 333.9H92.89999999999999Q94.5 333.9 95.3 333.2" stroke="#111" stroke-width="1.5" fill="none" stroke-linejoin="round"/>
<path d="M100.2 333.2Q101.0 333.9 102.60000000000001 333.9H104.64999999999999Q106.55 333.9 107.85 337.0Q109.14999999999999 333.9 111.05 333.9H113.1Q114.7 333.9 115.5 333.2" stroke="#111" stroke-width="1.5" fill="none" stroke-linejoin="round"/>
<text x="57.00" y="346.18" font-family="Liberation Sans" font-size="8.6" font-weight="bold" text-anchor="start" fill="#111" textLength="41.8" lengthAdjust="spacingAndGlyphs" stroke="#111" stroke-width="0.3">miR-142-3p</text>
<rect x="282.3" y="261.00" width="33.6" height="6.1" fill="#8e8e8e"/>
<text x="137.60" y="251.75" font-family="Liberation Mono" font-size="7.8" font-weight="bold" fill="#111" stroke="#111" stroke-width="0.25" textLength="53.13" lengthAdjust="spacingAndGlyphs" xml:space="preserve">BAFFR-3’UTR</text>
<text x="137.60" y="263.85" font-family="Liberation Mono" font-size="7.8" font-weight="bold" fill="#111" stroke="#111" stroke-width="0.25" textLength="48.50" lengthAdjust="spacingAndGlyphs" xml:space="preserve">miR-142-3p</text>
<text x="196.20" y="251.75" font-family="Liberation Mono" font-size="7.8" font-weight="bold" fill="#111" stroke="#111" stroke-width="0.25" textLength="125.19" lengthAdjust="spacingAndGlyphs" xml:space="preserve">5’-ACCCGGCAGAACCAGACACUACA</text>
<text x="196.20" y="263.85" font-family="Liberation Mono" font-size="7.8" font-weight="bold" fill="#111" stroke="#111" stroke-width="0.25" textLength="125.19" lengthAdjust="spacingAndGlyphs" xml:space="preserve">3’-AGGUAUUUCAUCCUUUGUGAUGU</text>
<path d="M217.27 252.05v6.6M222.08 252.05v6.6M246.16 252.05v6.6M250.97 252.05v6.6M260.60 252.05v6.6M275.05 252.05v6.6M284.68 252.05v6.6M289.49 252.05v6.6M294.31 252.05v6.6M299.12 252.05v6.6M303.94 252.05v6.6M308.75 252.05v6.6M313.57 252.05v6.6M318.38 252.05v6.6" stroke="#111" stroke-width="1.4" fill="none"/>
<circle cx="236.53" cy="254.45" r="1.25" fill="#111"/>
<circle cx="279.86" cy="254.45" r="1.25" fill="#111"/>
<rect x="282.3" y="300.10" width="33.6" height="6.1" fill="#8e8e8e"/>
<text x="138.60" y="290.15" font-family="Liberation Mono" font-size="7.8" font-weight="bold" fill="#111" stroke="#111" stroke-width="0.25" textLength="48.30" lengthAdjust="spacingAndGlyphs" xml:space="preserve">RAG1-3’UTR</text>
<text x="137.60" y="302.95" font-family="Liberation Mono" font-size="7.8" font-weight="bold" fill="#111" stroke="#111" stroke-width="0.25" textLength="48.50" lengthAdjust="spacingAndGlyphs" xml:space="preserve">miR-142-3p</text>
<text x="196.20" y="290.15" font-family="Liberation Mono" font-size="7.8" font-weight="bold" fill="#111" stroke="#111" stroke-width="0.25" textLength="125.19" lengthAdjust="spacingAndGlyphs" xml:space="preserve">5’-UGGGAUCUACACUAAACACUACA</text>
<text x="196.20" y="302.95" font-family="Liberation Mono" font-size="7.8" font-weight="bold" fill="#111" stroke="#111" stroke-width="0.25" textLength="125.19" lengthAdjust="spacingAndGlyphs" xml:space="preserve">3’-AGGUAUUUCAUCCUUUGUGAUGU</text>
<path d="M212.45 290.80v6.6M260.60 290.80v6.6M275.05 290.80v6.6M279.86 290.80v6.6M284.68 290.80v6.6M289.49 290.80v6.6M294.31 290.80v6.6M299.12 290.80v6.6M303.94 290.80v6.6M308.75 290.80v6.6M313.57 290.80v6.6M318.38 290.80v6.6" stroke="#111" stroke-width="1.4" fill="none"/>
<circle cx="226.90" cy="293.20" r="1.25" fill="#111"/>
<rect x="282.3" y="337.20" width="33.6" height="6.9" fill="#8e8e8e"/>
<text x="138.60" y="328.35" font-family="Liberation Mono" font-size="7.8" font-weight="bold" fill="#111" stroke="#111" stroke-width="0.25" textLength="48.30" lengthAdjust="spacingAndGlyphs" xml:space="preserve">WASL-3’UTR</text>
<text x="137.60" y="340.05" font-family="Liberation Mono" font-size="7.8" font-weight="bold" fill="#111" stroke="#111" stroke-width="0.25" textLength="48.50" lengthAdjust="spacingAndGlyphs" xml:space="preserve">miR-142-3p</text>
<text x="196.20" y="328.35" font-family="Liberation Mono" font-size="7.8" font-weight="bold" fill="#111" stroke="#111" stroke-width="0.25" textLength="125.19" lengthAdjust="spacingAndGlyphs" xml:space="preserve">5’-AAGGUGAAAUACUAAACACUACU</text>
<text x="196.20" y="340.05" font-family="Liberation Mono" font-size="7.8" font-weight="bold" fill="#111" stroke="#111" stroke-width="0.25" textLength="125.19" lengthAdjust="spacingAndGlyphs" xml:space="preserve">3’-AGGUAUUUCAUCCUUUGUGAUGU</text>
<path d="M231.71 328.45v6.6M241.34 328.45v6.6M246.16 328.45v6.6M255.79 328.45v6.6M260.60 328.45v6.6M275.05 328.45v6.6M279.86 328.45v6.6M284.68 328.45v6.6M289.49 328.45v6.6M294.31 328.45v6.6M299.12 328.45v6.6M303.94 328.45v6.6M308.75 328.45v6.6M313.57 328.45v6.6" stroke="#111" stroke-width="1.4" fill="none"/>
<circle cx="226.90" cy="330.85" r="1.25" fill="#111"/>
<circle cx="236.53" cy="330.85" r="1.25" fill="#111"/>
<text x="288.90" y="351.05" font-family="Liberation Mono" font-size="7.8" font-weight="bold" fill="#111" stroke="#111" stroke-width="0.25" textLength="20.20" lengthAdjust="spacingAndGlyphs" xml:space="preserve">seed</text>
</svg>
</body></html>
